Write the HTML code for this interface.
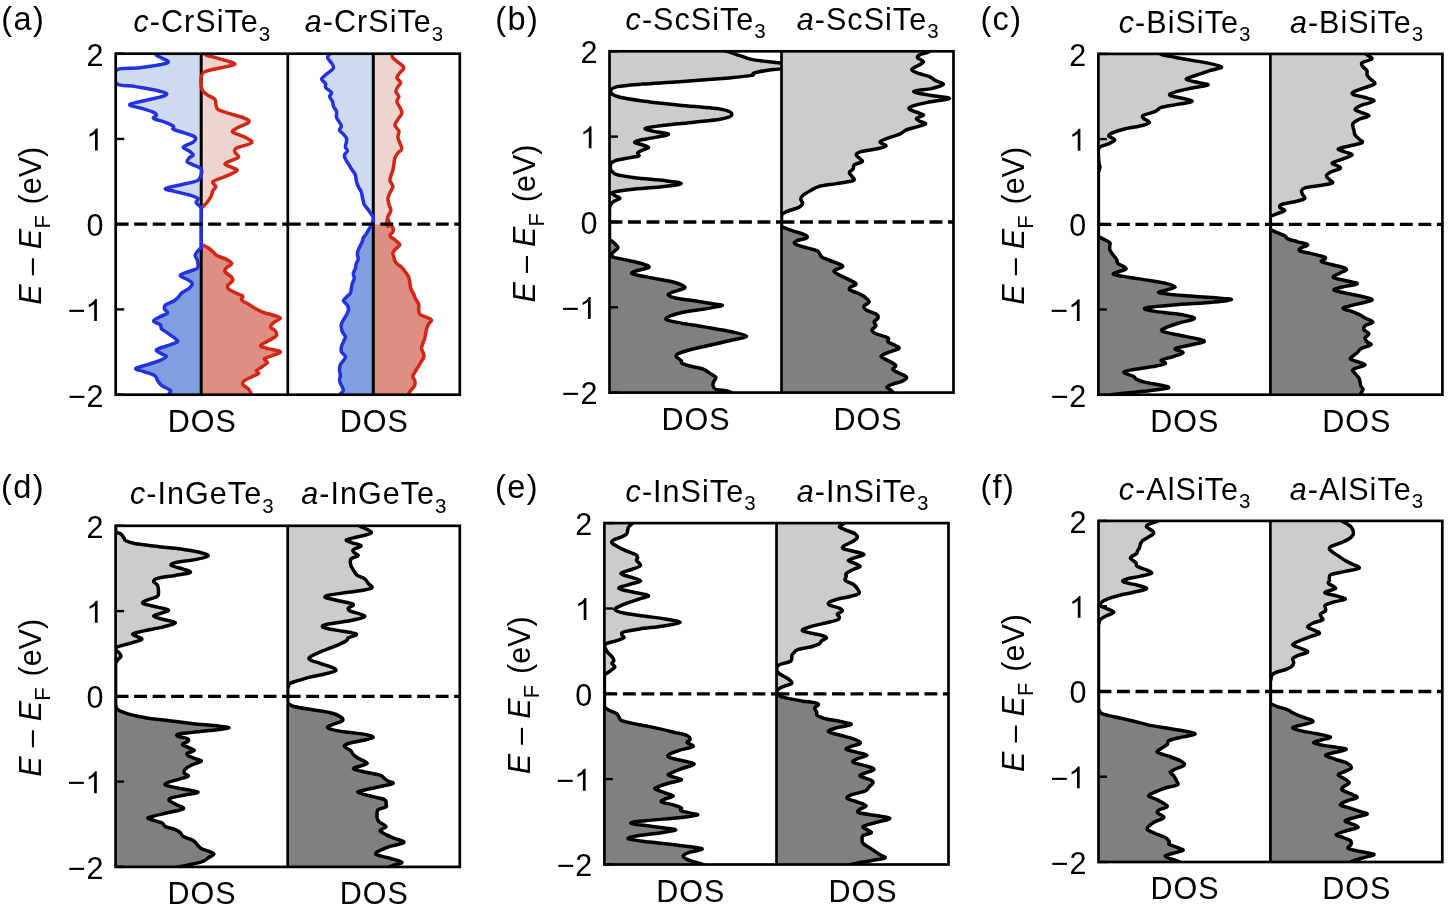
<!DOCTYPE html>
<html><head><meta charset="utf-8"><style>
html,body{margin:0;padding:0;background:#fff;}
svg{display:block;will-change:transform;font-family:"Liberation Sans",sans-serif;}
</style></head><body>
<svg width="1450" height="909" viewBox="0 0 1450 909">
<rect width="1450" height="909" fill="#fff"/>
<defs></defs>
<clipPath id="k1"><rect x="115.7" y="53.7" width="172.1" height="341"/></clipPath>
<clipPath id="k2"><rect x="115.7" y="33.7" width="172.1" height="190.5"/></clipPath>
<clipPath id="k3"><rect x="115.7" y="224.2" width="172.1" height="190.5"/></clipPath>
<g clip-path="url(#k1)">
<path d="M155.5,43.7C155.5,45.4 154.6,51.6 155.5,54C156.5,56.3 159.5,56.4 161.5,57.9C163.5,59.4 171.1,61.2 167.4,62.9C163.8,64.5 148.1,66.7 139.7,67.8C131.3,69 120.7,67.2 116.9,69.8C113.1,72.4 113.8,80.9 116.9,83.7C120.1,86.5 128.3,85.3 135.7,86.6C143.2,88 156.5,90.2 161.5,91.6C166.5,93 167.8,93.8 165.8,95.1C163.9,96.5 155.6,98 149.6,99.5C143.6,101.1 131.1,103 129.8,104.5C128.5,105.9 137.7,107.1 141.7,108.4C145.6,109.7 151.1,111.2 153.6,112.4C156,113.5 156.5,114.4 156.5,115.3C156.5,116.3 152.1,117.2 153.6,118.3C155,119.5 162.1,121 165.4,122.3C168.7,123.6 172,125.1 173.4,126.2C174.7,127.4 171.4,128.1 173.4,129.2C175.3,130.4 181.6,131.8 185.2,133.2C188.9,134.5 193.8,135.6 195.1,137.1C196.5,138.6 195.1,140.4 193.2,142.1C191.2,143.7 183.9,145.5 183.3,147C182.6,148.5 187.6,149.7 189.2,151C190.9,152.3 193.2,153.8 193.2,155C193.2,156.1 190.2,156.8 189.2,157.9C188.2,159.1 186.6,160.7 187.2,161.9C187.9,163 190.9,163.7 193.2,164.9C195.5,166 199.8,167.2 201.1,168.8C202.4,170.5 201.7,172.8 201.1,174.8C200.4,176.7 200.4,179 197.1,180.7C193.8,182.3 186.6,183.3 181.3,184.7C176,186 166.4,187.5 165.4,188.6C164.5,189.8 171.1,190.4 175.3,191.6C179.6,192.7 187.4,194.4 191.2,195.5C195,196.7 197.3,197.4 198.1,198.5C198.9,199.7 195.8,201.2 196.1,202.5C196.5,203.8 199.3,205.4 200.1,206.4C200.9,207.4 200.9,208.1 201.1,208.4L201.2,208.4 L201.2,43.7 Z" fill="#cddaf0" clip-path="url(#k2)"/>
<path d="M205,43.7C205,45.4 203.7,51.8 205,54C206.4,56.2 209.3,55.8 213,56.9C216.6,58.1 223.2,59.7 226.8,60.9C230.5,62.1 235.7,63.1 234.8,64.3C233.8,65.4 225.8,66.6 220.9,67.8C215.9,69.1 208.3,70.1 205,71.8C201.7,73.4 201.6,74.8 201.1,77.7C200.6,80.7 201.1,86.8 202.1,89.6C203.1,92.4 204.9,92.9 207,94.6C209.2,96.2 213.5,97.9 215,99.5C216.4,101.2 215.4,102.8 215.9,104.5C216.4,106.1 215.8,107.9 217.9,109.4C220.1,110.9 224.4,111.9 228.8,113.4C233.3,114.9 241.4,116.8 244.7,118.3C248,119.8 249.9,120.6 248.6,122.3C247.3,123.9 239.4,126.6 236.7,128.2C234.1,129.9 231.5,130.7 232.8,132.2C234.1,133.7 241.5,135.4 244.7,137.1C247.8,138.9 252.9,140.9 251.6,142.7C250.3,144.5 239.5,146.5 236.7,148C233.9,149.6 234.4,150.5 234.8,152C235.1,153.5 239,155.6 238.7,156.9C238.4,158.3 235.1,158.7 232.8,159.9C230.5,161.1 224.9,162.5 224.9,163.9C224.9,165.2 230.8,166.7 232.8,167.8C234.8,169 238.1,169.3 236.7,170.8C235.4,172.3 228.8,174.9 224.9,176.7C220.9,178.5 214.5,180 213,181.7C211.5,183.3 215.9,185.1 215.9,186.6C215.9,188.1 213.8,188.9 213,190.6C212.1,192.2 212,194.6 211,196.5C210,198.5 208.3,200.8 207,202.5C205.7,204.1 204.1,205.4 203.1,206.4C202.1,207.4 201.4,208.1 201.1,208.4L201.2,208.4 L201.2,43.7 Z" fill="#eed4cf" clip-path="url(#k2)"/>
<path d="M201.1,247.7C200.4,248.4 198.1,250.4 197.1,251.7C196.1,253 195.1,254.3 195.1,255.6C195.1,257 196.6,258.1 197.1,259.6C197.6,261.1 198.1,263.1 198.1,264.6C198.1,266 198.6,267.4 197.1,268.5C195.6,269.7 192,270.3 189.2,271.5C186.4,272.6 180.6,274.1 180.3,275.4C180,276.8 185.2,278.1 187.2,279.4C189.2,280.7 191.8,281.9 192.2,283.4C192.5,284.9 191,286.7 189.2,288.3C187.4,290 183.1,291.8 181.3,293.3C179.5,294.8 179.6,295.9 178.3,297.2C177,298.5 175.5,299.9 173.4,301.2C171.2,302.5 166.9,303.8 165.4,305.1C164,306.5 164.1,307.8 164.5,309.1C164.8,310.4 168.3,311.7 167.4,313.1C166.6,314.4 161.8,315.7 159.5,317C157.2,318.3 153.4,319.7 153.6,321C153.7,322.3 159.2,323.6 160.5,325C161.8,326.3 160.3,327.6 161.5,328.9C162.6,330.2 165.1,331.2 167.4,332.9C169.7,334.5 173.7,337.3 175.3,338.8C177,340.3 178.6,340.6 177.3,341.8C176,342.9 170.9,344.4 167.4,345.7C164,347.1 157.5,348.4 156.5,349.7C155.5,351 159.8,352.5 161.5,353.7C163.1,354.8 166.8,355.5 166.4,356.6C166.1,357.8 162.6,359.3 159.5,360.6C156.4,361.9 151.6,363.2 147.6,364.6C143.7,365.9 136.4,367.4 135.7,368.5C135.1,369.7 140.5,370.3 143.7,371.5C146.8,372.6 152.2,374 154.6,375.4C156.9,376.9 156.4,378.7 157.5,380.4C158.7,382 159.3,383.7 161.5,385.3C163.6,387 169.1,389 170.4,390.3C171.7,391.6 169.9,392.1 169.4,393.3C168.9,394.4 167.8,395.3 167.4,397.2C167.1,399.1 167.4,403.5 167.4,404.7L201.2,404.7 L201.2,247.7 Z" fill="#7fa0e0" clip-path="url(#k3)"/>
<path d="M202.1,244.8C203.1,245.2 206.2,246.6 208,247.7C209.8,248.9 211.5,250.4 213,251.7C214.5,253 214.6,254.3 216.9,255.6C219.2,257 224.4,258.3 226.8,259.6C229.3,260.9 231.8,262.2 231.8,263.6C231.8,264.9 228,266.2 226.8,267.5C225.7,268.8 224.2,270 224.9,271.5C225.5,273 229.5,275 230.8,276.4C232.1,277.9 233.3,278.9 232.8,280.4C232.3,281.9 228.5,283.9 227.8,285.3C227.2,286.8 227.3,288 228.8,289.3C230.3,290.6 234.4,292.1 236.7,293.3C239,294.4 241.8,295.1 242.7,296.2C243.5,297.4 240.7,298.9 241.7,300.2C242.7,301.5 246.5,302.8 248.6,304.2C250.8,305.5 252.2,306.8 254.6,308.1C256.9,309.4 259.5,310.9 262.5,312.1C265.4,313.2 269.4,314.1 272.4,315C275.3,316 280,316.9 280.3,318C280.6,319.2 276,320.5 274.4,322C272.7,323.5 270.2,325.4 270.4,326.9C270.6,328.4 274.4,329.4 275.3,330.9C276.3,332.4 277.5,334.2 276.3,335.8C275.2,337.5 271.1,339.1 268.4,340.8C265.8,342.4 260.5,344.4 260.5,345.7C260.5,347.1 265.1,347.7 268.4,348.7C271.7,349.7 279.6,350.5 280.3,351.7C281,352.8 275,354.5 272.4,355.6C269.7,356.8 265.3,357.5 264.5,358.6C263.6,359.8 267.8,361.3 267.4,362.6C267.1,363.9 264.3,365.2 262.5,366.5C260.7,367.9 257.2,369.3 256.5,370.5C255.9,371.7 259.2,372.5 258.5,373.5C257.9,374.5 254.9,375.3 252.6,376.4C250.3,377.6 246.3,379.1 244.7,380.4C243,381.7 242.2,383 242.7,384.4C243.2,385.7 246.3,387 247.6,388.3C248.9,389.6 249.9,390.8 250.6,392.3C251.3,393.8 251.4,395.2 251.6,397.2C251.7,399.3 251.6,403.5 251.6,404.7L201.2,404.7 L201.2,244.8 Z" fill="#de8e82" clip-path="url(#k3)"/>
<line x1="201.2" y1="53.7" x2="201.2" y2="394.7" stroke="#000" stroke-width="3"/>
<path d="M205,43.7C205,45.4 203.7,51.8 205,54C206.4,56.2 209.3,55.8 213,56.9C216.6,58.1 223.2,59.7 226.8,60.9C230.5,62.1 235.7,63.1 234.8,64.3C233.8,65.4 225.8,66.6 220.9,67.8C215.9,69.1 208.3,70.1 205,71.8C201.7,73.4 201.6,74.8 201.1,77.7C200.6,80.7 201.1,86.8 202.1,89.6C203.1,92.4 204.9,92.9 207,94.6C209.2,96.2 213.5,97.9 215,99.5C216.4,101.2 215.4,102.8 215.9,104.5C216.4,106.1 215.8,107.9 217.9,109.4C220.1,110.9 224.4,111.9 228.8,113.4C233.3,114.9 241.4,116.8 244.7,118.3C248,119.8 249.9,120.6 248.6,122.3C247.3,123.9 239.4,126.6 236.7,128.2C234.1,129.9 231.5,130.7 232.8,132.2C234.1,133.7 241.5,135.4 244.7,137.1C247.8,138.9 252.9,140.9 251.6,142.7C250.3,144.5 239.5,146.5 236.7,148C233.9,149.6 234.4,150.5 234.8,152C235.1,153.5 239,155.6 238.7,156.9C238.4,158.3 235.1,158.7 232.8,159.9C230.5,161.1 224.9,162.5 224.9,163.9C224.9,165.2 230.8,166.7 232.8,167.8C234.8,169 238.1,169.3 236.7,170.8C235.4,172.3 228.8,174.9 224.9,176.7C220.9,178.5 214.5,180 213,181.7C211.5,183.3 215.9,185.1 215.9,186.6C215.9,188.1 213.8,188.9 213,190.6C212.1,192.2 212,194.6 211,196.5C210,198.5 208.3,200.8 207,202.5C205.7,204.1 204.1,205.4 203.1,206.4C202.1,207.4 201.4,208.1 201.1,208.4" fill="none" stroke="#d22616" stroke-width="3.5" stroke-linejoin="round"/>
<path d="M202.1,244.8C203.1,245.2 206.2,246.6 208,247.7C209.8,248.9 211.5,250.4 213,251.7C214.5,253 214.6,254.3 216.9,255.6C219.2,257 224.4,258.3 226.8,259.6C229.3,260.9 231.8,262.2 231.8,263.6C231.8,264.9 228,266.2 226.8,267.5C225.7,268.8 224.2,270 224.9,271.5C225.5,273 229.5,275 230.8,276.4C232.1,277.9 233.3,278.9 232.8,280.4C232.3,281.9 228.5,283.9 227.8,285.3C227.2,286.8 227.3,288 228.8,289.3C230.3,290.6 234.4,292.1 236.7,293.3C239,294.4 241.8,295.1 242.7,296.2C243.5,297.4 240.7,298.9 241.7,300.2C242.7,301.5 246.5,302.8 248.6,304.2C250.8,305.5 252.2,306.8 254.6,308.1C256.9,309.4 259.5,310.9 262.5,312.1C265.4,313.2 269.4,314.1 272.4,315C275.3,316 280,316.9 280.3,318C280.6,319.2 276,320.5 274.4,322C272.7,323.5 270.2,325.4 270.4,326.9C270.6,328.4 274.4,329.4 275.3,330.9C276.3,332.4 277.5,334.2 276.3,335.8C275.2,337.5 271.1,339.1 268.4,340.8C265.8,342.4 260.5,344.4 260.5,345.7C260.5,347.1 265.1,347.7 268.4,348.7C271.7,349.7 279.6,350.5 280.3,351.7C281,352.8 275,354.5 272.4,355.6C269.7,356.8 265.3,357.5 264.5,358.6C263.6,359.8 267.8,361.3 267.4,362.6C267.1,363.9 264.3,365.2 262.5,366.5C260.7,367.9 257.2,369.3 256.5,370.5C255.9,371.7 259.2,372.5 258.5,373.5C257.9,374.5 254.9,375.3 252.6,376.4C250.3,377.6 246.3,379.1 244.7,380.4C243,381.7 242.2,383 242.7,384.4C243.2,385.7 246.3,387 247.6,388.3C248.9,389.6 249.9,390.8 250.6,392.3C251.3,393.8 251.4,395.2 251.6,397.2C251.7,399.3 251.6,403.5 251.6,404.7" fill="none" stroke="#d22616" stroke-width="3.5" stroke-linejoin="round"/>
<path d="M155.5,43.7C155.5,45.4 154.6,51.6 155.5,54C156.5,56.3 159.5,56.4 161.5,57.9C163.5,59.4 171.1,61.2 167.4,62.9C163.8,64.5 148.1,66.7 139.7,67.8C131.3,69 120.7,67.2 116.9,69.8C113.1,72.4 113.8,80.9 116.9,83.7C120.1,86.5 128.3,85.3 135.7,86.6C143.2,88 156.5,90.2 161.5,91.6C166.5,93 167.8,93.8 165.8,95.1C163.9,96.5 155.6,98 149.6,99.5C143.6,101.1 131.1,103 129.8,104.5C128.5,105.9 137.7,107.1 141.7,108.4C145.6,109.7 151.1,111.2 153.6,112.4C156,113.5 156.5,114.4 156.5,115.3C156.5,116.3 152.1,117.2 153.6,118.3C155,119.5 162.1,121 165.4,122.3C168.7,123.6 172,125.1 173.4,126.2C174.7,127.4 171.4,128.1 173.4,129.2C175.3,130.4 181.6,131.8 185.2,133.2C188.9,134.5 193.8,135.6 195.1,137.1C196.5,138.6 195.1,140.4 193.2,142.1C191.2,143.7 183.9,145.5 183.3,147C182.6,148.5 187.6,149.7 189.2,151C190.9,152.3 193.2,153.8 193.2,155C193.2,156.1 190.2,156.8 189.2,157.9C188.2,159.1 186.6,160.7 187.2,161.9C187.9,163 190.9,163.7 193.2,164.9C195.5,166 199.8,167.2 201.1,168.8C202.4,170.5 201.7,172.8 201.1,174.8C200.4,176.7 200.4,179 197.1,180.7C193.8,182.3 186.6,183.3 181.3,184.7C176,186 166.4,187.5 165.4,188.6C164.5,189.8 171.1,190.4 175.3,191.6C179.6,192.7 187.4,194.4 191.2,195.5C195,196.7 197.3,197.4 198.1,198.5C198.9,199.7 195.8,201.2 196.1,202.5C196.5,203.8 199.3,205.4 200.1,206.4C200.9,207.4 200.9,208.1 201.1,208.4 L201.2,208.4 L201.2,247.7L201.1,247.7C200.4,248.4 198.1,250.4 197.1,251.7C196.1,253 195.1,254.3 195.1,255.6C195.1,257 196.6,258.1 197.1,259.6C197.6,261.1 198.1,263.1 198.1,264.6C198.1,266 198.6,267.4 197.1,268.5C195.6,269.7 192,270.3 189.2,271.5C186.4,272.6 180.6,274.1 180.3,275.4C180,276.8 185.2,278.1 187.2,279.4C189.2,280.7 191.8,281.9 192.2,283.4C192.5,284.9 191,286.7 189.2,288.3C187.4,290 183.1,291.8 181.3,293.3C179.5,294.8 179.6,295.9 178.3,297.2C177,298.5 175.5,299.9 173.4,301.2C171.2,302.5 166.9,303.8 165.4,305.1C164,306.5 164.1,307.8 164.5,309.1C164.8,310.4 168.3,311.7 167.4,313.1C166.6,314.4 161.8,315.7 159.5,317C157.2,318.3 153.4,319.7 153.6,321C153.7,322.3 159.2,323.6 160.5,325C161.8,326.3 160.3,327.6 161.5,328.9C162.6,330.2 165.1,331.2 167.4,332.9C169.7,334.5 173.7,337.3 175.3,338.8C177,340.3 178.6,340.6 177.3,341.8C176,342.9 170.9,344.4 167.4,345.7C164,347.1 157.5,348.4 156.5,349.7C155.5,351 159.8,352.5 161.5,353.7C163.1,354.8 166.8,355.5 166.4,356.6C166.1,357.8 162.6,359.3 159.5,360.6C156.4,361.9 151.6,363.2 147.6,364.6C143.7,365.9 136.4,367.4 135.7,368.5C135.1,369.7 140.5,370.3 143.7,371.5C146.8,372.6 152.2,374 154.6,375.4C156.9,376.9 156.4,378.7 157.5,380.4C158.7,382 159.3,383.7 161.5,385.3C163.6,387 169.1,389 170.4,390.3C171.7,391.6 169.9,392.1 169.4,393.3C168.9,394.4 167.8,395.3 167.4,397.2C167.1,399.1 167.4,403.5 167.4,404.7" fill="none" stroke="#2332dc" stroke-width="3.5" stroke-linejoin="round"/>
</g>
<clipPath id="k4"><rect x="287.8" y="53.7" width="172.1" height="341"/></clipPath>
<clipPath id="k5"><rect x="287.8" y="33.7" width="172.1" height="190.5"/></clipPath>
<clipPath id="k6"><rect x="287.8" y="224.2" width="172.1" height="190.5"/></clipPath>
<g clip-path="url(#k4)">
<path d="M329.6,43.7C329.6,45.1 329.6,50.3 329.6,52C329.6,53.7 329.9,53 329.6,54C329.2,55 327.2,56.4 327.6,57.9C327.9,59.4 330.5,61.2 331.5,62.9C332.5,64.5 333.8,66.3 333.5,67.8C333.2,69.3 331,70.5 329.6,71.8C328.1,73.1 325.9,74.5 324.6,75.7C323.3,77 321.5,78 321.6,79.3C321.8,80.6 324.9,82.3 325.6,83.7C326.3,85 324.6,86.1 325.6,87.6C326.6,89.1 330.9,91.1 331.5,92.6C332.2,94.1 329.4,95 329.6,96.5C329.7,98 331.9,99.8 332.5,101.5C333.2,103.1 332.9,104.8 333.5,106.4C334.2,108.1 336,109.6 336.5,111.4C337,113.2 336,115.5 336.5,117.3C337,119.1 338.6,120.8 339.5,122.3C340.3,123.8 341.4,124.9 341.4,126.2C341.4,127.6 339.1,128.9 339.5,130.2C339.8,131.5 342.3,132.8 343.4,134.2C344.6,135.5 345.9,136.8 346.4,138.1C346.9,139.4 346.6,140.6 346.4,142.1C346.2,143.6 345.2,145.5 345.4,147C345.6,148.5 347.5,149.7 347.4,151C347.2,152.3 344.7,153.6 344.4,155C344.1,156.3 344.7,157.4 345.4,158.9C346.1,160.4 347.4,162.2 348.4,163.9C349.4,165.5 350.2,167 351.3,168.8C352.5,170.6 354.5,172.8 355.3,174.8C356.1,176.7 355.8,178.7 356.3,180.7C356.8,182.7 357.4,184.8 358.3,186.6C359.1,188.4 360.6,189.9 361.2,191.6C361.9,193.2 361.9,195 362.2,196.5C362.6,198 362.9,199.2 363.2,200.5C363.5,201.8 363.5,203.1 364.2,204.5C364.9,205.8 366.2,207.1 367.2,208.4C368.2,209.7 369.2,210.9 370.1,212.4C371.1,213.9 372.6,215.3 373.1,217.3C373.6,219.3 373.1,223.8 373.1,224.3C373.1,224.7 373.3,220 373.1,220C373,220 372.8,222.5 372.1,224C371.5,225.4 370.1,227.3 369.2,228.9C368.2,230.6 367.2,232.4 366.2,233.9C365.2,235.3 363.9,236.5 363.2,237.8C362.6,239.1 362.9,240.1 362.2,241.8C361.6,243.4 360.1,245.7 359.3,247.7C358.4,249.7 357.4,251.8 357.3,253.7C357.1,255.5 358.4,257 358.3,258.6C358.1,260.3 356.8,261.9 356.3,263.6C355.8,265.2 355.8,266.9 355.3,268.5C354.8,270.2 353.5,271.8 353.3,273.5C353.2,275.1 354.5,276.8 354.3,278.4C354.1,280.1 352.8,281.7 352.3,283.4C351.8,285 351.7,286.7 351.3,288.3C351,290 351.2,291.8 350.3,293.3C349.5,294.8 347.5,296 346.4,297.2C345.2,298.5 343.3,299.5 343.4,300.8C343.6,302.1 346.6,303.6 347.4,305.1C348.2,306.7 348.5,308.4 348.4,310.1C348.2,311.7 347.2,313.4 346.4,315C345.6,316.7 344.2,318.5 343.4,320C342.6,321.5 341.8,322.6 341.4,324C341.1,325.3 341.3,326.6 341.4,327.9C341.6,329.2 341.8,330.4 342.4,331.9C343.1,333.4 345.2,335.2 345.4,336.8C345.6,338.5 344.1,340.1 343.4,341.8C342.8,343.4 341.8,345.1 341.4,346.7C341.1,348.4 340.8,350 341.4,351.7C342.1,353.3 345.1,355.1 345.4,356.6C345.7,358.1 344.2,359.3 343.4,360.6C342.6,361.9 341.1,362.9 340.4,364.6C339.8,366.2 339.5,368.7 339.5,370.5C339.5,372.3 340.4,373.8 340.4,375.4C340.4,377.1 339.3,378.7 339.5,380.4C339.6,382 340.8,383.7 341.4,385.3C342.1,387 343.6,388.9 343.4,390.3C343.3,391.7 341.1,392.7 340.4,393.9C339.8,395 339.6,395.4 339.5,397.2C339.3,399 339.5,403.5 339.5,404.7L373.3,404.7 L373.3,43.7 Z" fill="#cddaf0" clip-path="url(#k5)"/>
<path d="M391.9,43.7C391.9,45.1 391.9,50.3 391.9,52C391.9,53.7 391.8,53 391.9,54C392.1,55 391.8,56.4 392.9,57.9C394.1,59.4 397,61.2 398.9,62.9C400.7,64.5 403.6,66.2 403.8,67.8C404,69.5 401,71.1 399.9,72.8C398.7,74.4 396.7,76.1 396.9,77.7C397,79.4 400.7,81.2 400.8,82.7C401,84.2 398.7,85.1 397.9,86.6C397,88.1 395.7,89.9 395.9,91.6C396.1,93.2 398.7,94.9 398.9,96.5C399,98.2 396.7,99.7 396.9,101.5C397,103.3 399,105.4 399.9,107.4C400.7,109.4 402.2,111.4 401.8,113.4C401.5,115.3 399,117.3 397.9,119.3C396.7,121.3 394.7,123.3 394.9,125.2C395.1,127.2 398.4,129.2 398.9,131.2C399.4,133.2 397.7,135.1 397.9,137.1C398,139.1 399.2,141.1 399.9,143.1C400.5,145 402.2,147.4 401.8,149C401.5,150.7 399,151.5 397.9,153C396.7,154.5 395.6,156.1 394.9,157.9C394.2,159.7 394.2,161.9 393.9,163.9C393.6,165.8 393.4,167.8 392.9,169.8C392.4,171.8 391.4,173.9 390.9,175.7C390.4,177.6 389.6,178.9 390,180.7C390.3,182.5 392.9,184.7 392.9,186.6C392.9,188.6 390.8,190.6 390,192.6C389.1,194.6 388.1,196.5 388,198.5C387.8,200.5 388.5,202.5 389,204.5C389.5,206.4 391.1,208.4 390.9,210.4C390.8,212.4 388.6,214.5 388,216.3C387.3,218.2 387,219.6 387,221.3C387,222.9 387.8,226.5 388,226.2C388.1,226 387.6,220.4 388,220C388.3,219.6 389.1,222.6 390,224C390.8,225.3 392.4,226.6 392.9,227.9C393.4,229.2 393.4,230.6 392.9,231.9C392.4,233.2 389.6,234.5 390,235.8C390.3,237.2 393.3,238.3 394.9,239.8C396.6,241.3 399.7,243.3 399.9,244.8C400,246.2 397,247.4 395.9,248.7C394.7,250 393.3,251.2 392.9,252.7C392.6,254.2 393.4,256 393.9,257.6C394.4,259.3 394.6,260.9 395.9,262.6C397.2,264.2 400.2,265.9 401.8,267.5C403.5,269.2 404.6,270.8 405.8,272.5C406.9,274.1 408.1,275.8 408.8,277.4C409.4,279.1 409.4,280.6 409.8,282.4C410.1,284.2 410.1,286.3 410.7,288.3C411.4,290.3 412.9,292.4 413.7,294.3C414.5,296.1 414.9,297.6 415.7,299.2C416.5,300.9 418.2,302.5 418.7,304.2C419.2,305.8 418.5,307.5 418.7,309.1C418.8,310.8 418.5,312.7 419.7,314.1C420.8,315.4 423.6,316 425.6,317C427.6,318 431,318.8 431.5,320C432,321.2 429.4,322.5 428.6,324C427.7,325.4 427.1,327.3 426.6,328.9C426.1,330.6 425.9,332.2 425.6,333.9C425.3,335.5 425.1,337.2 424.6,338.8C424.1,340.5 423.1,342.1 422.6,343.8C422.1,345.4 421.5,347.1 421.6,348.7C421.8,350.4 423.3,352.2 423.6,353.7C423.9,355.1 424.1,356.1 423.6,357.6C423.1,359.1 421.6,360.9 420.6,362.6C419.7,364.2 418.7,365.9 417.7,367.5C416.7,369.2 415.5,371 414.7,372.5C413.9,374 412.7,375.1 412.7,376.4C412.7,377.8 414.4,378.9 414.7,380.4C415,381.9 415.2,383.9 414.7,385.3C414.2,386.8 412.7,388 411.7,389.3C410.7,390.6 409.6,391.9 408.8,393.3C407.9,394.6 407.1,395.3 406.8,397.2C406.5,399.1 406.8,403.5 406.8,404.7L373.3,404.7 L373.3,43.7 Z" fill="#eed4cf" clip-path="url(#k5)"/>
<path d="M329.6,43.7C329.6,45.1 329.6,50.3 329.6,52C329.6,53.7 329.9,53 329.6,54C329.2,55 327.2,56.4 327.6,57.9C327.9,59.4 330.5,61.2 331.5,62.9C332.5,64.5 333.8,66.3 333.5,67.8C333.2,69.3 331,70.5 329.6,71.8C328.1,73.1 325.9,74.5 324.6,75.7C323.3,77 321.5,78 321.6,79.3C321.8,80.6 324.9,82.3 325.6,83.7C326.3,85 324.6,86.1 325.6,87.6C326.6,89.1 330.9,91.1 331.5,92.6C332.2,94.1 329.4,95 329.6,96.5C329.7,98 331.9,99.8 332.5,101.5C333.2,103.1 332.9,104.8 333.5,106.4C334.2,108.1 336,109.6 336.5,111.4C337,113.2 336,115.5 336.5,117.3C337,119.1 338.6,120.8 339.5,122.3C340.3,123.8 341.4,124.9 341.4,126.2C341.4,127.6 339.1,128.9 339.5,130.2C339.8,131.5 342.3,132.8 343.4,134.2C344.6,135.5 345.9,136.8 346.4,138.1C346.9,139.4 346.6,140.6 346.4,142.1C346.2,143.6 345.2,145.5 345.4,147C345.6,148.5 347.5,149.7 347.4,151C347.2,152.3 344.7,153.6 344.4,155C344.1,156.3 344.7,157.4 345.4,158.9C346.1,160.4 347.4,162.2 348.4,163.9C349.4,165.5 350.2,167 351.3,168.8C352.5,170.6 354.5,172.8 355.3,174.8C356.1,176.7 355.8,178.7 356.3,180.7C356.8,182.7 357.4,184.8 358.3,186.6C359.1,188.4 360.6,189.9 361.2,191.6C361.9,193.2 361.9,195 362.2,196.5C362.6,198 362.9,199.2 363.2,200.5C363.5,201.8 363.5,203.1 364.2,204.5C364.9,205.8 366.2,207.1 367.2,208.4C368.2,209.7 369.2,210.9 370.1,212.4C371.1,213.9 372.6,215.3 373.1,217.3C373.6,219.3 373.1,223.8 373.1,224.3C373.1,224.7 373.3,220 373.1,220C373,220 372.8,222.5 372.1,224C371.5,225.4 370.1,227.3 369.2,228.9C368.2,230.6 367.2,232.4 366.2,233.9C365.2,235.3 363.9,236.5 363.2,237.8C362.6,239.1 362.9,240.1 362.2,241.8C361.6,243.4 360.1,245.7 359.3,247.7C358.4,249.7 357.4,251.8 357.3,253.7C357.1,255.5 358.4,257 358.3,258.6C358.1,260.3 356.8,261.9 356.3,263.6C355.8,265.2 355.8,266.9 355.3,268.5C354.8,270.2 353.5,271.8 353.3,273.5C353.2,275.1 354.5,276.8 354.3,278.4C354.1,280.1 352.8,281.7 352.3,283.4C351.8,285 351.7,286.7 351.3,288.3C351,290 351.2,291.8 350.3,293.3C349.5,294.8 347.5,296 346.4,297.2C345.2,298.5 343.3,299.5 343.4,300.8C343.6,302.1 346.6,303.6 347.4,305.1C348.2,306.7 348.5,308.4 348.4,310.1C348.2,311.7 347.2,313.4 346.4,315C345.6,316.7 344.2,318.5 343.4,320C342.6,321.5 341.8,322.6 341.4,324C341.1,325.3 341.3,326.6 341.4,327.9C341.6,329.2 341.8,330.4 342.4,331.9C343.1,333.4 345.2,335.2 345.4,336.8C345.6,338.5 344.1,340.1 343.4,341.8C342.8,343.4 341.8,345.1 341.4,346.7C341.1,348.4 340.8,350 341.4,351.7C342.1,353.3 345.1,355.1 345.4,356.6C345.7,358.1 344.2,359.3 343.4,360.6C342.6,361.9 341.1,362.9 340.4,364.6C339.8,366.2 339.5,368.7 339.5,370.5C339.5,372.3 340.4,373.8 340.4,375.4C340.4,377.1 339.3,378.7 339.5,380.4C339.6,382 340.8,383.7 341.4,385.3C342.1,387 343.6,388.9 343.4,390.3C343.3,391.7 341.1,392.7 340.4,393.9C339.8,395 339.6,395.4 339.5,397.2C339.3,399 339.5,403.5 339.5,404.7L373.3,404.7 L373.3,43.7 Z" fill="#7fa0e0" clip-path="url(#k6)"/>
<path d="M391.9,43.7C391.9,45.1 391.9,50.3 391.9,52C391.9,53.7 391.8,53 391.9,54C392.1,55 391.8,56.4 392.9,57.9C394.1,59.4 397,61.2 398.9,62.9C400.7,64.5 403.6,66.2 403.8,67.8C404,69.5 401,71.1 399.9,72.8C398.7,74.4 396.7,76.1 396.9,77.7C397,79.4 400.7,81.2 400.8,82.7C401,84.2 398.7,85.1 397.9,86.6C397,88.1 395.7,89.9 395.9,91.6C396.1,93.2 398.7,94.9 398.9,96.5C399,98.2 396.7,99.7 396.9,101.5C397,103.3 399,105.4 399.9,107.4C400.7,109.4 402.2,111.4 401.8,113.4C401.5,115.3 399,117.3 397.9,119.3C396.7,121.3 394.7,123.3 394.9,125.2C395.1,127.2 398.4,129.2 398.9,131.2C399.4,133.2 397.7,135.1 397.9,137.1C398,139.1 399.2,141.1 399.9,143.1C400.5,145 402.2,147.4 401.8,149C401.5,150.7 399,151.5 397.9,153C396.7,154.5 395.6,156.1 394.9,157.9C394.2,159.7 394.2,161.9 393.9,163.9C393.6,165.8 393.4,167.8 392.9,169.8C392.4,171.8 391.4,173.9 390.9,175.7C390.4,177.6 389.6,178.9 390,180.7C390.3,182.5 392.9,184.7 392.9,186.6C392.9,188.6 390.8,190.6 390,192.6C389.1,194.6 388.1,196.5 388,198.5C387.8,200.5 388.5,202.5 389,204.5C389.5,206.4 391.1,208.4 390.9,210.4C390.8,212.4 388.6,214.5 388,216.3C387.3,218.2 387,219.6 387,221.3C387,222.9 387.8,226.5 388,226.2C388.1,226 387.6,220.4 388,220C388.3,219.6 389.1,222.6 390,224C390.8,225.3 392.4,226.6 392.9,227.9C393.4,229.2 393.4,230.6 392.9,231.9C392.4,233.2 389.6,234.5 390,235.8C390.3,237.2 393.3,238.3 394.9,239.8C396.6,241.3 399.7,243.3 399.9,244.8C400,246.2 397,247.4 395.9,248.7C394.7,250 393.3,251.2 392.9,252.7C392.6,254.2 393.4,256 393.9,257.6C394.4,259.3 394.6,260.9 395.9,262.6C397.2,264.2 400.2,265.9 401.8,267.5C403.5,269.2 404.6,270.8 405.8,272.5C406.9,274.1 408.1,275.8 408.8,277.4C409.4,279.1 409.4,280.6 409.8,282.4C410.1,284.2 410.1,286.3 410.7,288.3C411.4,290.3 412.9,292.4 413.7,294.3C414.5,296.1 414.9,297.6 415.7,299.2C416.5,300.9 418.2,302.5 418.7,304.2C419.2,305.8 418.5,307.5 418.7,309.1C418.8,310.8 418.5,312.7 419.7,314.1C420.8,315.4 423.6,316 425.6,317C427.6,318 431,318.8 431.5,320C432,321.2 429.4,322.5 428.6,324C427.7,325.4 427.1,327.3 426.6,328.9C426.1,330.6 425.9,332.2 425.6,333.9C425.3,335.5 425.1,337.2 424.6,338.8C424.1,340.5 423.1,342.1 422.6,343.8C422.1,345.4 421.5,347.1 421.6,348.7C421.8,350.4 423.3,352.2 423.6,353.7C423.9,355.1 424.1,356.1 423.6,357.6C423.1,359.1 421.6,360.9 420.6,362.6C419.7,364.2 418.7,365.9 417.7,367.5C416.7,369.2 415.5,371 414.7,372.5C413.9,374 412.7,375.1 412.7,376.4C412.7,377.8 414.4,378.9 414.7,380.4C415,381.9 415.2,383.9 414.7,385.3C414.2,386.8 412.7,388 411.7,389.3C410.7,390.6 409.6,391.9 408.8,393.3C407.9,394.6 407.1,395.3 406.8,397.2C406.5,399.1 406.8,403.5 406.8,404.7L373.3,404.7 L373.3,43.7 Z" fill="#de8e82" clip-path="url(#k6)"/>
<line x1="373.3" y1="53.7" x2="373.3" y2="394.7" stroke="#000" stroke-width="3"/>
<path d="M391.9,43.7C391.9,45.1 391.9,50.3 391.9,52C391.9,53.7 391.8,53 391.9,54C392.1,55 391.8,56.4 392.9,57.9C394.1,59.4 397,61.2 398.9,62.9C400.7,64.5 403.6,66.2 403.8,67.8C404,69.5 401,71.1 399.9,72.8C398.7,74.4 396.7,76.1 396.9,77.7C397,79.4 400.7,81.2 400.8,82.7C401,84.2 398.7,85.1 397.9,86.6C397,88.1 395.7,89.9 395.9,91.6C396.1,93.2 398.7,94.9 398.9,96.5C399,98.2 396.7,99.7 396.9,101.5C397,103.3 399,105.4 399.9,107.4C400.7,109.4 402.2,111.4 401.8,113.4C401.5,115.3 399,117.3 397.9,119.3C396.7,121.3 394.7,123.3 394.9,125.2C395.1,127.2 398.4,129.2 398.9,131.2C399.4,133.2 397.7,135.1 397.9,137.1C398,139.1 399.2,141.1 399.9,143.1C400.5,145 402.2,147.4 401.8,149C401.5,150.7 399,151.5 397.9,153C396.7,154.5 395.6,156.1 394.9,157.9C394.2,159.7 394.2,161.9 393.9,163.9C393.6,165.8 393.4,167.8 392.9,169.8C392.4,171.8 391.4,173.9 390.9,175.7C390.4,177.6 389.6,178.9 390,180.7C390.3,182.5 392.9,184.7 392.9,186.6C392.9,188.6 390.8,190.6 390,192.6C389.1,194.6 388.1,196.5 388,198.5C387.8,200.5 388.5,202.5 389,204.5C389.5,206.4 391.1,208.4 390.9,210.4C390.8,212.4 388.6,214.5 388,216.3C387.3,218.2 387,219.6 387,221.3C387,222.9 387.8,226.5 388,226.2C388.1,226 387.6,220.4 388,220C388.3,219.6 389.1,222.6 390,224C390.8,225.3 392.4,226.6 392.9,227.9C393.4,229.2 393.4,230.6 392.9,231.9C392.4,233.2 389.6,234.5 390,235.8C390.3,237.2 393.3,238.3 394.9,239.8C396.6,241.3 399.7,243.3 399.9,244.8C400,246.2 397,247.4 395.9,248.7C394.7,250 393.3,251.2 392.9,252.7C392.6,254.2 393.4,256 393.9,257.6C394.4,259.3 394.6,260.9 395.9,262.6C397.2,264.2 400.2,265.9 401.8,267.5C403.5,269.2 404.6,270.8 405.8,272.5C406.9,274.1 408.1,275.8 408.8,277.4C409.4,279.1 409.4,280.6 409.8,282.4C410.1,284.2 410.1,286.3 410.7,288.3C411.4,290.3 412.9,292.4 413.7,294.3C414.5,296.1 414.9,297.6 415.7,299.2C416.5,300.9 418.2,302.5 418.7,304.2C419.2,305.8 418.5,307.5 418.7,309.1C418.8,310.8 418.5,312.7 419.7,314.1C420.8,315.4 423.6,316 425.6,317C427.6,318 431,318.8 431.5,320C432,321.2 429.4,322.5 428.6,324C427.7,325.4 427.1,327.3 426.6,328.9C426.1,330.6 425.9,332.2 425.6,333.9C425.3,335.5 425.1,337.2 424.6,338.8C424.1,340.5 423.1,342.1 422.6,343.8C422.1,345.4 421.5,347.1 421.6,348.7C421.8,350.4 423.3,352.2 423.6,353.7C423.9,355.1 424.1,356.1 423.6,357.6C423.1,359.1 421.6,360.9 420.6,362.6C419.7,364.2 418.7,365.9 417.7,367.5C416.7,369.2 415.5,371 414.7,372.5C413.9,374 412.7,375.1 412.7,376.4C412.7,377.8 414.4,378.9 414.7,380.4C415,381.9 415.2,383.9 414.7,385.3C414.2,386.8 412.7,388 411.7,389.3C410.7,390.6 409.6,391.9 408.8,393.3C407.9,394.6 407.1,395.3 406.8,397.2C406.5,399.1 406.8,403.5 406.8,404.7" fill="none" stroke="#d22616" stroke-width="3.5" stroke-linejoin="round"/>
<path d="M329.6,43.7C329.6,45.1 329.6,50.3 329.6,52C329.6,53.7 329.9,53 329.6,54C329.2,55 327.2,56.4 327.6,57.9C327.9,59.4 330.5,61.2 331.5,62.9C332.5,64.5 333.8,66.3 333.5,67.8C333.2,69.3 331,70.5 329.6,71.8C328.1,73.1 325.9,74.5 324.6,75.7C323.3,77 321.5,78 321.6,79.3C321.8,80.6 324.9,82.3 325.6,83.7C326.3,85 324.6,86.1 325.6,87.6C326.6,89.1 330.9,91.1 331.5,92.6C332.2,94.1 329.4,95 329.6,96.5C329.7,98 331.9,99.8 332.5,101.5C333.2,103.1 332.9,104.8 333.5,106.4C334.2,108.1 336,109.6 336.5,111.4C337,113.2 336,115.5 336.5,117.3C337,119.1 338.6,120.8 339.5,122.3C340.3,123.8 341.4,124.9 341.4,126.2C341.4,127.6 339.1,128.9 339.5,130.2C339.8,131.5 342.3,132.8 343.4,134.2C344.6,135.5 345.9,136.8 346.4,138.1C346.9,139.4 346.6,140.6 346.4,142.1C346.2,143.6 345.2,145.5 345.4,147C345.6,148.5 347.5,149.7 347.4,151C347.2,152.3 344.7,153.6 344.4,155C344.1,156.3 344.7,157.4 345.4,158.9C346.1,160.4 347.4,162.2 348.4,163.9C349.4,165.5 350.2,167 351.3,168.8C352.5,170.6 354.5,172.8 355.3,174.8C356.1,176.7 355.8,178.7 356.3,180.7C356.8,182.7 357.4,184.8 358.3,186.6C359.1,188.4 360.6,189.9 361.2,191.6C361.9,193.2 361.9,195 362.2,196.5C362.6,198 362.9,199.2 363.2,200.5C363.5,201.8 363.5,203.1 364.2,204.5C364.9,205.8 366.2,207.1 367.2,208.4C368.2,209.7 369.2,210.9 370.1,212.4C371.1,213.9 372.6,215.3 373.1,217.3C373.6,219.3 373.1,223.8 373.1,224.3C373.1,224.7 373.3,220 373.1,220C373,220 372.8,222.5 372.1,224C371.5,225.4 370.1,227.3 369.2,228.9C368.2,230.6 367.2,232.4 366.2,233.9C365.2,235.3 363.9,236.5 363.2,237.8C362.6,239.1 362.9,240.1 362.2,241.8C361.6,243.4 360.1,245.7 359.3,247.7C358.4,249.7 357.4,251.8 357.3,253.7C357.1,255.5 358.4,257 358.3,258.6C358.1,260.3 356.8,261.9 356.3,263.6C355.8,265.2 355.8,266.9 355.3,268.5C354.8,270.2 353.5,271.8 353.3,273.5C353.2,275.1 354.5,276.8 354.3,278.4C354.1,280.1 352.8,281.7 352.3,283.4C351.8,285 351.7,286.7 351.3,288.3C351,290 351.2,291.8 350.3,293.3C349.5,294.8 347.5,296 346.4,297.2C345.2,298.5 343.3,299.5 343.4,300.8C343.6,302.1 346.6,303.6 347.4,305.1C348.2,306.7 348.5,308.4 348.4,310.1C348.2,311.7 347.2,313.4 346.4,315C345.6,316.7 344.2,318.5 343.4,320C342.6,321.5 341.8,322.6 341.4,324C341.1,325.3 341.3,326.6 341.4,327.9C341.6,329.2 341.8,330.4 342.4,331.9C343.1,333.4 345.2,335.2 345.4,336.8C345.6,338.5 344.1,340.1 343.4,341.8C342.8,343.4 341.8,345.1 341.4,346.7C341.1,348.4 340.8,350 341.4,351.7C342.1,353.3 345.1,355.1 345.4,356.6C345.7,358.1 344.2,359.3 343.4,360.6C342.6,361.9 341.1,362.9 340.4,364.6C339.8,366.2 339.5,368.7 339.5,370.5C339.5,372.3 340.4,373.8 340.4,375.4C340.4,377.1 339.3,378.7 339.5,380.4C339.6,382 340.8,383.7 341.4,385.3C342.1,387 343.6,388.9 343.4,390.3C343.3,391.7 341.1,392.7 340.4,393.9C339.8,395 339.6,395.4 339.5,397.2C339.3,399 339.5,403.5 339.5,404.7" fill="none" stroke="#2332dc" stroke-width="3.5" stroke-linejoin="round"/>
</g>
<line x1="115.7" y1="224.2" x2="287.8" y2="224.2" stroke="#000" stroke-width="3.3" stroke-dasharray="12.9 5.6"/>
<line x1="287.8" y1="224.2" x2="459.8" y2="224.2" stroke="#000" stroke-width="3.3" stroke-dasharray="12.9 5.6"/>
<line x1="115.7" y1="53.7" x2="124.2" y2="53.7" stroke="#000" stroke-width="2.4"/>
<line x1="115.7" y1="138.9" x2="124.2" y2="138.9" stroke="#000" stroke-width="2.4"/>
<line x1="115.7" y1="224.2" x2="124.2" y2="224.2" stroke="#000" stroke-width="2.4"/>
<line x1="115.7" y1="309.4" x2="124.2" y2="309.4" stroke="#000" stroke-width="2.4"/>
<line x1="115.7" y1="394.7" x2="124.2" y2="394.7" stroke="#000" stroke-width="2.4"/>
<rect x="115.7" y="53.7" width="344.1" height="341" fill="none" stroke="#000" stroke-width="2.7"/>
<line x1="287.8" y1="53.7" x2="287.8" y2="394.7" stroke="#000" stroke-width="2.7"/>
<text x="104.2" y="65.5" text-anchor="end" font-size="30.5" letter-spacing="0.6">2</text>
<path d="M97.7,150.5L95,150.5L95,133.5Q94,134.4 92.4,135.3Q90.9,136.2 89.6,136.7L89.6,134.1Q91.9,133.1 93.6,131.5Q95.2,130 95.9,128.6L97.7,128.6Z" fill="#000"/>
<text x="104.2" y="236" text-anchor="end" font-size="30.5" letter-spacing="0.6">0</text>
<path d="M96.9,321.1L94.2,321.1L94.2,304Q93.2,304.9 91.6,305.8Q90.1,306.7 88.8,307.2L88.8,304.6Q91.1,303.6 92.8,302Q94.4,300.5 95.1,299.1L96.9,299.1Z" fill="#000"/>
<text x="85.7" y="321.2" text-anchor="end" font-size="30.5">−</text>
<text x="104.2" y="406.5" text-anchor="end" font-size="30.5" letter-spacing="0.6">−2</text>
<text x="202.2" y="432" text-anchor="middle" font-size="30.5" letter-spacing="1.0">DOS</text>
<text x="374.3" y="432" text-anchor="middle" font-size="30.5" letter-spacing="1.0">DOS</text>
<text x="202.4" y="32.3" text-anchor="middle" font-size="30.5" letter-spacing="1.05"><tspan font-style="italic">c</tspan>-CrSiTe<tspan font-size="20.5" dy="8.2">3</tspan></text>
<text x="374.5" y="32.3" text-anchor="middle" font-size="30.5" letter-spacing="1.05"><tspan font-style="italic">a</tspan>-CrSiTe<tspan font-size="20.5" dy="8.2">3</tspan></text>
<text x="1.2" y="29.6" font-size="32.5" letter-spacing="1.4">(a)</text>
<text transform="translate(41.2,304.7) rotate(-90)" font-size="30.5" letter-spacing="0.3"><tspan font-style="italic">E</tspan> – <tspan font-style="italic">E</tspan><tspan font-size="22" dy="8.6">F</tspan></text>
<text transform="translate(41.2,204.4) rotate(-90)" font-size="30.5">(eV)</text>
<clipPath id="k7"><rect x="609.5" y="51.3" width="172" height="341.3"/></clipPath>
<g clip-path="url(#k7)">
<path d="M723.8,41.3C723.8,42.7 722.9,48.2 723.8,50C724.7,51.7 726.2,50.8 729.1,51.9C732,52.9 737.3,54.9 741.5,56.2C745.6,57.5 747.6,58.8 754,59.9C760.4,61 775,62.2 780,63C785,63.8 783.5,64.1 784.2,64.8C784.9,65.5 784.7,66.5 784.2,67.2C783.7,67.8 784.2,68 781.2,68.6C778.3,69.2 770.9,69.8 766.4,70.5C761.8,71.2 756.5,72.2 754,73C751.5,73.8 755.6,74.6 751.5,75.4C747.3,76.2 741.1,76.8 729.1,77.9C717.1,78.9 694,80.7 679.5,81.7C665,82.7 652.6,83.3 642.2,84.1C631.9,84.9 622.7,85.5 617.4,86.6C612.1,87.8 610.6,89.3 610.6,91C610.6,92.7 612.1,94.9 617.4,96.5C622.7,98.2 631.9,99.5 642.2,100.9C652.6,102.3 666,103.7 679.5,105.2C693,106.6 714.3,107.9 723,109.6C731.7,111.3 732.3,113.7 731.7,115.3C731.2,116.9 726.1,118.1 719.9,119.3C713.6,120.4 703.3,121.2 694.1,122.2C684.9,123.2 672.5,124.2 664.4,125.2C656.3,126.2 647.6,127.2 645.6,128.2C643.6,129.2 648.7,130.1 652.5,131.1C656.3,132.1 667.7,133.1 668.4,134.1C669,135.1 661.1,136.1 656.5,137.1C651.9,138.1 644.3,139.2 640.6,140C637,140.9 634.4,141.6 634.7,142.4C635,143.3 640.3,144.1 642.6,145C644.9,145.9 648.6,146.7 648.6,147.6C648.6,148.4 644.4,149.1 642.6,150C640.8,150.8 638.3,151.9 637.7,152.9C637,153.9 640.1,155.1 638.7,155.9C637.2,156.7 632.7,157 628.8,157.9C624.8,158.7 617.9,159.9 614.9,160.8C611.9,161.8 611.6,162.3 610.9,163.8C610.3,165.3 610,167.9 610.9,169.8C611.9,171.6 612.9,173.4 616.9,174.7C620.8,176 626.8,176.7 634.7,177.7C642.6,178.7 656.7,179.7 664.4,180.6C672.2,181.6 681.2,182.6 681.2,183.6C681.2,184.6 672.8,185.6 664.4,186.6C656,187.6 639.3,188.6 630.7,189.6C622.2,190.5 615.6,191.5 612.9,192.5C610.3,193.5 613.7,194.5 614.9,195.5C616.1,196.5 620,197.5 619.9,198.5C619.7,199.5 615.4,200.4 613.9,201.4C612.4,202.4 611.6,203.6 610.9,204.4C610.3,205.2 610.1,206.1 610,206.4L609.5,206.4 L609.5,41.3 Z" fill="#cccccc"/>
<path d="M610,239.8C610.8,240.4 613.6,242.4 614.9,243.7C616.2,245 618,246.4 617.9,247.7C617.7,249 615.1,250.3 613.9,251.6C612.8,253 610.8,254.6 610.9,255.6C611.1,256.6 611.9,256.7 614.9,257.6C617.9,258.4 623.8,259.4 628.8,260.5C633.7,261.7 641.3,263.3 644.6,264.5C647.9,265.7 650.2,266.3 648.6,267.5C646.9,268.6 637.3,270.4 634.7,271.4C632.1,272.5 630.4,272.8 632.7,273.8C635,274.8 642.3,276.1 648.6,277.4C654.8,278.6 664.7,280 670.3,281.3C676,282.7 679.9,284.1 682.2,285.3C684.5,286.5 685.9,287.1 684.2,288.3C682.6,289.4 675,291.1 672.3,292.2C669.7,293.4 667.7,294.2 668.4,295.2C669,296.2 671.7,297.2 676.3,298.2C680.9,299.2 689.5,300.1 696.1,301.1C702.7,302.1 711.6,303.3 715.9,304.1C720.2,304.9 723.8,304.9 721.8,305.7C719.9,306.5 710.3,308 704,309.1C697.7,310.1 689.8,310.9 684.2,312C678.6,313.2 673.3,314.7 670.3,316C667.4,317.2 664.7,318.4 666.4,319.6C668,320.7 674,321.7 680.2,322.9C686.5,324.1 695.4,325.4 704,326.9C712.6,328.4 724.6,330.3 731.7,331.8C738.8,333.4 746.3,334.9 746.6,336.2C746.9,337.5 739.5,338.3 733.7,339.8C727.9,341.2 719.2,343.1 711.9,344.7C704.7,346.4 695.8,348.2 690.1,349.7C684.5,351.1 680.6,352.5 678.3,353.6C676,354.8 675.8,355.4 676.3,356.6C676.8,357.7 680.2,359.4 681.2,360.5C682.2,361.7 680.4,362.5 682.2,363.5C684,364.5 688.5,365.5 692.1,366.5C695.8,367.5 701,368.3 704,369.5C707,370.6 708,372.1 710,373.4C711.9,374.7 715.2,376.1 715.9,377.4C716.6,378.7 714.4,380 713.9,381.3C713.4,382.7 712.6,384 712.9,385.3C713.3,386.6 713.4,388.3 715.9,389.3C718.4,390.2 724.8,390.4 727.8,391.2C730.7,392.1 732.7,392.3 733.7,394.2C734.7,396.1 733.7,401.2 733.7,402.6L609.5,402.6 L609.5,239.8 Z" fill="#808080"/>
<path d="M723.8,41.3C723.8,42.7 722.9,48.2 723.8,50C724.7,51.7 726.2,50.8 729.1,51.9C732,52.9 737.3,54.9 741.5,56.2C745.6,57.5 747.6,58.8 754,59.9C760.4,61 775,62.2 780,63C785,63.8 783.5,64.1 784.2,64.8C784.9,65.5 784.7,66.5 784.2,67.2C783.7,67.8 784.2,68 781.2,68.6C778.3,69.2 770.9,69.8 766.4,70.5C761.8,71.2 756.5,72.2 754,73C751.5,73.8 755.6,74.6 751.5,75.4C747.3,76.2 741.1,76.8 729.1,77.9C717.1,78.9 694,80.7 679.5,81.7C665,82.7 652.6,83.3 642.2,84.1C631.9,84.9 622.7,85.5 617.4,86.6C612.1,87.8 610.6,89.3 610.6,91C610.6,92.7 612.1,94.9 617.4,96.5C622.7,98.2 631.9,99.5 642.2,100.9C652.6,102.3 666,103.7 679.5,105.2C693,106.6 714.3,107.9 723,109.6C731.7,111.3 732.3,113.7 731.7,115.3C731.2,116.9 726.1,118.1 719.9,119.3C713.6,120.4 703.3,121.2 694.1,122.2C684.9,123.2 672.5,124.2 664.4,125.2C656.3,126.2 647.6,127.2 645.6,128.2C643.6,129.2 648.7,130.1 652.5,131.1C656.3,132.1 667.7,133.1 668.4,134.1C669,135.1 661.1,136.1 656.5,137.1C651.9,138.1 644.3,139.2 640.6,140C637,140.9 634.4,141.6 634.7,142.4C635,143.3 640.3,144.1 642.6,145C644.9,145.9 648.6,146.7 648.6,147.6C648.6,148.4 644.4,149.1 642.6,150C640.8,150.8 638.3,151.9 637.7,152.9C637,153.9 640.1,155.1 638.7,155.9C637.2,156.7 632.7,157 628.8,157.9C624.8,158.7 617.9,159.9 614.9,160.8C611.9,161.8 611.6,162.3 610.9,163.8C610.3,165.3 610,167.9 610.9,169.8C611.9,171.6 612.9,173.4 616.9,174.7C620.8,176 626.8,176.7 634.7,177.7C642.6,178.7 656.7,179.7 664.4,180.6C672.2,181.6 681.2,182.6 681.2,183.6C681.2,184.6 672.8,185.6 664.4,186.6C656,187.6 639.3,188.6 630.7,189.6C622.2,190.5 615.6,191.5 612.9,192.5C610.3,193.5 613.7,194.5 614.9,195.5C616.1,196.5 620,197.5 619.9,198.5C619.7,199.5 615.4,200.4 613.9,201.4C612.4,202.4 611.6,203.6 610.9,204.4C610.3,205.2 610.1,206.1 610,206.4 L609.5,206.4 L609.5,239.8L610,239.8C610.8,240.4 613.6,242.4 614.9,243.7C616.2,245 618,246.4 617.9,247.7C617.7,249 615.1,250.3 613.9,251.6C612.8,253 610.8,254.6 610.9,255.6C611.1,256.6 611.9,256.7 614.9,257.6C617.9,258.4 623.8,259.4 628.8,260.5C633.7,261.7 641.3,263.3 644.6,264.5C647.9,265.7 650.2,266.3 648.6,267.5C646.9,268.6 637.3,270.4 634.7,271.4C632.1,272.5 630.4,272.8 632.7,273.8C635,274.8 642.3,276.1 648.6,277.4C654.8,278.6 664.7,280 670.3,281.3C676,282.7 679.9,284.1 682.2,285.3C684.5,286.5 685.9,287.1 684.2,288.3C682.6,289.4 675,291.1 672.3,292.2C669.7,293.4 667.7,294.2 668.4,295.2C669,296.2 671.7,297.2 676.3,298.2C680.9,299.2 689.5,300.1 696.1,301.1C702.7,302.1 711.6,303.3 715.9,304.1C720.2,304.9 723.8,304.9 721.8,305.7C719.9,306.5 710.3,308 704,309.1C697.7,310.1 689.8,310.9 684.2,312C678.6,313.2 673.3,314.7 670.3,316C667.4,317.2 664.7,318.4 666.4,319.6C668,320.7 674,321.7 680.2,322.9C686.5,324.1 695.4,325.4 704,326.9C712.6,328.4 724.6,330.3 731.7,331.8C738.8,333.4 746.3,334.9 746.6,336.2C746.9,337.5 739.5,338.3 733.7,339.8C727.9,341.2 719.2,343.1 711.9,344.7C704.7,346.4 695.8,348.2 690.1,349.7C684.5,351.1 680.6,352.5 678.3,353.6C676,354.8 675.8,355.4 676.3,356.6C676.8,357.7 680.2,359.4 681.2,360.5C682.2,361.7 680.4,362.5 682.2,363.5C684,364.5 688.5,365.5 692.1,366.5C695.8,367.5 701,368.3 704,369.5C707,370.6 708,372.1 710,373.4C711.9,374.7 715.2,376.1 715.9,377.4C716.6,378.7 714.4,380 713.9,381.3C713.4,382.7 712.6,384 712.9,385.3C713.3,386.6 713.4,388.3 715.9,389.3C718.4,390.2 724.8,390.4 727.8,391.2C730.7,392.1 732.7,392.3 733.7,394.2C734.7,396.1 733.7,401.2 733.7,402.6" fill="none" stroke="#000" stroke-width="3.5" stroke-linejoin="round"/>
</g>
<clipPath id="k8"><rect x="781.5" y="51.3" width="172" height="341.3"/></clipPath>
<g clip-path="url(#k8)">
<path d="M929.5,41.3C929.5,42.7 929.6,48.2 929.5,50C929.3,51.7 930.1,51.1 928.5,51.9C926.8,52.8 921.4,53.9 919.6,54.9C917.8,55.9 916.9,56.7 917.6,57.9C918.3,59 923.5,60.5 923.5,61.8C923.5,63.2 919.6,64.5 917.6,65.8C915.6,67.1 911.3,68.4 911.7,69.8C912,71.1 916.6,72.6 919.6,73.7C922.5,74.9 926.8,75.5 929.5,76.7C932.1,77.8 933.1,79.3 935.4,80.6C937.7,82 944,83.3 943.3,84.6C942.7,85.9 936.4,87.4 931.5,88.6C926.5,89.7 913.6,90.4 913.6,91.5C913.6,92.7 925.5,94.3 931.5,95.5C937.4,96.7 949.9,97.3 949.3,98.5C948.6,99.6 933.8,101.1 927.5,102.4C921.2,103.7 914.6,105.2 911.7,106.4C908.7,107.5 908.4,108.2 909.7,109.4C911,110.5 917.3,112.3 919.6,113.3C921.9,114.3 924,114.5 923.5,115.3C923,116.1 917.3,117.3 916.6,118.3C915.9,119.3 918.1,120.3 919.6,121.2C921.1,122.2 926.2,122.8 925.5,123.8C924.9,124.8 918.9,126.1 915.6,127.2C912.3,128.2 908.4,129 905.7,130.1C903.1,131.3 902.7,132.8 899.8,134.1C896.8,135.4 891.2,136.7 887.9,138.1C884.6,139.4 880.3,140.7 880,142C879.6,143.3 886.6,144.8 885.9,146C885.3,147.1 880.3,148 876,149C871.7,150 863.5,150.9 860.2,151.9C856.9,152.9 856.2,153.7 856.2,154.9C856.2,156.1 859.2,157.7 860.2,158.9C861.2,160 863.1,160.8 862.1,161.8C861.2,162.8 855.7,163.6 854.2,164.8C852.7,166 854.1,167.4 853.2,168.8C852.4,170.1 849.4,171.4 849.3,172.7C849.1,174 851.6,175.4 852.2,176.7C852.9,178 855.9,179.5 853.2,180.6C850.6,181.8 842.2,182.6 836.4,183.6C830.6,184.6 822.9,185.4 818.6,186.6C814.3,187.7 813.3,189.1 810.7,190.5C808,192 804.4,194 802.7,195.5C801.1,197 800.8,198.1 800.8,199.5C800.8,200.8 803.1,202.1 802.7,203.4C802.4,204.7 801.4,206.1 798.8,207.4C796.1,208.7 789.7,210.2 786.9,211.3C784.1,212.5 782.8,213.8 782,214.3L781.5,214.3 L781.5,41.3 Z" fill="#cccccc"/>
<path d="M782,226.9C783.8,227.5 789,229.5 792.8,230.8C796.6,232.2 802.4,233.6 804.7,234.8C807,236 808,236.8 806.7,237.8C805.4,238.8 798.8,239.8 796.8,240.7C794.8,241.7 793.8,242.7 794.8,243.7C795.8,244.7 799.1,245.5 802.7,246.7C806.4,247.8 813.8,249.5 816.6,250.6C819.4,251.8 818.6,252.5 819.6,253.6C820.6,254.8 820.4,256.3 822.5,257.6C824.7,258.9 829.5,260.4 832.4,261.5C835.4,262.7 838.7,263.6 840.4,264.5C842,265.4 843.3,265.9 842.3,266.9C841.4,267.9 835.4,269.4 834.4,270.4C833.4,271.5 834.8,272.3 836.4,273.4C838.1,274.6 841.7,276.1 844.3,277.4C847,278.7 850.3,280.2 852.2,281.3C854.2,282.5 856.5,283.3 856.2,284.3C855.9,285.3 851.3,286.3 850.3,287.3C849.3,288.3 848.6,289.1 850.3,290.2C851.9,291.4 857.5,292.9 860.2,294.2C862.8,295.5 864.6,296.8 866.1,298.2C867.6,299.5 869.4,300.8 869.1,302.1C868.7,303.4 864.6,304.8 864.1,306.1C863.6,307.4 864.1,308.7 866.1,310C868.1,311.4 874,312.7 876,314C878,315.3 878.3,316.7 878,318C877.7,319.3 874.4,320.6 874,321.9C873.7,323.3 876.3,324.6 876,325.9C875.7,327.2 872,328.5 872,329.9C872,331.2 873.4,332.5 876,333.8C878.7,335.1 885.9,336.5 887.9,337.8C889.9,339.1 886.6,340.4 887.9,341.7C889.2,343.1 894,344.5 895.8,345.7C897.6,346.8 900.1,347.5 898.8,348.7C897.5,349.8 890.9,351.3 887.9,352.6C884.9,353.9 881,355.3 881,356.6C881,357.9 885.4,359.1 887.9,360.5C890.4,362 895,364 895.8,365.5C896.6,367 892.2,368.1 892.8,369.5C893.5,370.8 897.5,372.1 899.8,373.4C902.1,374.7 906.4,376.1 906.7,377.4C907,378.7 904.2,380.2 901.8,381.3C899.3,382.5 894.3,383.3 891.9,384.3C889.4,385.3 887.1,386.3 886.9,387.3C886.7,388.3 889.7,389.1 890.9,390.2C892,391.4 893.3,392.1 893.8,394.2C894.3,396.3 893.8,401.2 893.8,402.6L781.5,402.6 L781.5,226.9 Z" fill="#808080"/>
<path d="M929.5,41.3C929.5,42.7 929.6,48.2 929.5,50C929.3,51.7 930.1,51.1 928.5,51.9C926.8,52.8 921.4,53.9 919.6,54.9C917.8,55.9 916.9,56.7 917.6,57.9C918.3,59 923.5,60.5 923.5,61.8C923.5,63.2 919.6,64.5 917.6,65.8C915.6,67.1 911.3,68.4 911.7,69.8C912,71.1 916.6,72.6 919.6,73.7C922.5,74.9 926.8,75.5 929.5,76.7C932.1,77.8 933.1,79.3 935.4,80.6C937.7,82 944,83.3 943.3,84.6C942.7,85.9 936.4,87.4 931.5,88.6C926.5,89.7 913.6,90.4 913.6,91.5C913.6,92.7 925.5,94.3 931.5,95.5C937.4,96.7 949.9,97.3 949.3,98.5C948.6,99.6 933.8,101.1 927.5,102.4C921.2,103.7 914.6,105.2 911.7,106.4C908.7,107.5 908.4,108.2 909.7,109.4C911,110.5 917.3,112.3 919.6,113.3C921.9,114.3 924,114.5 923.5,115.3C923,116.1 917.3,117.3 916.6,118.3C915.9,119.3 918.1,120.3 919.6,121.2C921.1,122.2 926.2,122.8 925.5,123.8C924.9,124.8 918.9,126.1 915.6,127.2C912.3,128.2 908.4,129 905.7,130.1C903.1,131.3 902.7,132.8 899.8,134.1C896.8,135.4 891.2,136.7 887.9,138.1C884.6,139.4 880.3,140.7 880,142C879.6,143.3 886.6,144.8 885.9,146C885.3,147.1 880.3,148 876,149C871.7,150 863.5,150.9 860.2,151.9C856.9,152.9 856.2,153.7 856.2,154.9C856.2,156.1 859.2,157.7 860.2,158.9C861.2,160 863.1,160.8 862.1,161.8C861.2,162.8 855.7,163.6 854.2,164.8C852.7,166 854.1,167.4 853.2,168.8C852.4,170.1 849.4,171.4 849.3,172.7C849.1,174 851.6,175.4 852.2,176.7C852.9,178 855.9,179.5 853.2,180.6C850.6,181.8 842.2,182.6 836.4,183.6C830.6,184.6 822.9,185.4 818.6,186.6C814.3,187.7 813.3,189.1 810.7,190.5C808,192 804.4,194 802.7,195.5C801.1,197 800.8,198.1 800.8,199.5C800.8,200.8 803.1,202.1 802.7,203.4C802.4,204.7 801.4,206.1 798.8,207.4C796.1,208.7 789.7,210.2 786.9,211.3C784.1,212.5 782.8,213.8 782,214.3 L781.5,214.3 L781.5,226.9L782,226.9C783.8,227.5 789,229.5 792.8,230.8C796.6,232.2 802.4,233.6 804.7,234.8C807,236 808,236.8 806.7,237.8C805.4,238.8 798.8,239.8 796.8,240.7C794.8,241.7 793.8,242.7 794.8,243.7C795.8,244.7 799.1,245.5 802.7,246.7C806.4,247.8 813.8,249.5 816.6,250.6C819.4,251.8 818.6,252.5 819.6,253.6C820.6,254.8 820.4,256.3 822.5,257.6C824.7,258.9 829.5,260.4 832.4,261.5C835.4,262.7 838.7,263.6 840.4,264.5C842,265.4 843.3,265.9 842.3,266.9C841.4,267.9 835.4,269.4 834.4,270.4C833.4,271.5 834.8,272.3 836.4,273.4C838.1,274.6 841.7,276.1 844.3,277.4C847,278.7 850.3,280.2 852.2,281.3C854.2,282.5 856.5,283.3 856.2,284.3C855.9,285.3 851.3,286.3 850.3,287.3C849.3,288.3 848.6,289.1 850.3,290.2C851.9,291.4 857.5,292.9 860.2,294.2C862.8,295.5 864.6,296.8 866.1,298.2C867.6,299.5 869.4,300.8 869.1,302.1C868.7,303.4 864.6,304.8 864.1,306.1C863.6,307.4 864.1,308.7 866.1,310C868.1,311.4 874,312.7 876,314C878,315.3 878.3,316.7 878,318C877.7,319.3 874.4,320.6 874,321.9C873.7,323.3 876.3,324.6 876,325.9C875.7,327.2 872,328.5 872,329.9C872,331.2 873.4,332.5 876,333.8C878.7,335.1 885.9,336.5 887.9,337.8C889.9,339.1 886.6,340.4 887.9,341.7C889.2,343.1 894,344.5 895.8,345.7C897.6,346.8 900.1,347.5 898.8,348.7C897.5,349.8 890.9,351.3 887.9,352.6C884.9,353.9 881,355.3 881,356.6C881,357.9 885.4,359.1 887.9,360.5C890.4,362 895,364 895.8,365.5C896.6,367 892.2,368.1 892.8,369.5C893.5,370.8 897.5,372.1 899.8,373.4C902.1,374.7 906.4,376.1 906.7,377.4C907,378.7 904.2,380.2 901.8,381.3C899.3,382.5 894.3,383.3 891.9,384.3C889.4,385.3 887.1,386.3 886.9,387.3C886.7,388.3 889.7,389.1 890.9,390.2C892,391.4 893.3,392.1 893.8,394.2C894.3,396.3 893.8,401.2 893.8,402.6" fill="none" stroke="#000" stroke-width="3.5" stroke-linejoin="round"/>
</g>
<line x1="609.5" y1="222" x2="781.5" y2="222" stroke="#000" stroke-width="3.3" stroke-dasharray="12.9 5.6"/>
<line x1="781.5" y1="222" x2="953.5" y2="222" stroke="#000" stroke-width="3.3" stroke-dasharray="12.9 5.6"/>
<line x1="609.5" y1="51.3" x2="618" y2="51.3" stroke="#000" stroke-width="2.4"/>
<line x1="609.5" y1="136.6" x2="618" y2="136.6" stroke="#000" stroke-width="2.4"/>
<line x1="609.5" y1="221.9" x2="618" y2="221.9" stroke="#000" stroke-width="2.4"/>
<line x1="609.5" y1="307.3" x2="618" y2="307.3" stroke="#000" stroke-width="2.4"/>
<line x1="609.5" y1="392.6" x2="618" y2="392.6" stroke="#000" stroke-width="2.4"/>
<rect x="609.5" y="51.3" width="344" height="341.3" fill="none" stroke="#000" stroke-width="2.7"/>
<line x1="781.5" y1="51.3" x2="781.5" y2="392.6" stroke="#000" stroke-width="2.7"/>
<text x="598" y="63.1" text-anchor="end" font-size="30.5" letter-spacing="0.6">2</text>
<path d="M591.5,148.2L588.8,148.2L588.8,131.1Q587.8,132.1 586.2,133Q584.7,133.9 583.4,134.4L583.4,131.8Q585.7,130.7 587.4,129.2Q589,127.7 589.7,126.3L591.5,126.3Z" fill="#000"/>
<text x="598" y="233.8" text-anchor="end" font-size="30.5" letter-spacing="0.6">0</text>
<path d="M590.7,318.9L588,318.9L588,301.8Q587,302.7 585.4,303.6Q583.9,304.6 582.6,305L582.6,302.4Q584.9,301.4 586.6,299.9Q588.2,298.4 588.9,297L590.7,297Z" fill="#000"/>
<text x="579.5" y="319.1" text-anchor="end" font-size="30.5">−</text>
<text x="598" y="404.4" text-anchor="end" font-size="30.5" letter-spacing="0.6">−2</text>
<text x="696" y="429.9" text-anchor="middle" font-size="30.5" letter-spacing="1.0">DOS</text>
<text x="868" y="429.9" text-anchor="middle" font-size="30.5" letter-spacing="1.0">DOS</text>
<text x="696.2" y="29.9" text-anchor="middle" font-size="30.5" letter-spacing="1.05"><tspan font-style="italic">c</tspan>-ScSiTe<tspan font-size="20.5" dy="8.2">3</tspan></text>
<text x="868.2" y="29.9" text-anchor="middle" font-size="30.5" letter-spacing="1.05"><tspan font-style="italic">a</tspan>-ScSiTe<tspan font-size="20.5" dy="8.2">3</tspan></text>
<text x="495.2" y="29.6" font-size="32.5" letter-spacing="1.4">(b)</text>
<text transform="translate(535,302.5) rotate(-90)" font-size="30.5" letter-spacing="0.3"><tspan font-style="italic">E</tspan> – <tspan font-style="italic">E</tspan><tspan font-size="22" dy="8.6">F</tspan></text>
<text transform="translate(535,202.2) rotate(-90)" font-size="30.5">(eV)</text>
<clipPath id="k9"><rect x="1098.4" y="53.9" width="172" height="340.8"/></clipPath>
<g clip-path="url(#k9)">
<path d="M1159.3,43.9C1159.3,45.2 1159,50.2 1159.3,52C1159.7,53.7 1159,53.5 1161.3,54.3C1163.6,55.2 1168.6,56 1173.2,56.9C1177.8,57.8 1183.4,58.9 1189,59.9C1194.7,60.9 1201.9,61.9 1206.9,62.9C1211.8,63.8 1216.4,65 1218.8,65.8C1221.1,66.6 1222.4,67 1220.7,67.8C1219.1,68.6 1212.2,69.8 1208.9,70.8C1205.6,71.8 1204.2,72.6 1200.9,73.7C1197.6,74.9 1191.4,76.7 1189,77.7C1186.7,78.7 1185.4,78.9 1187.1,79.7C1188.7,80.5 1195.5,81.8 1199,82.7C1202.4,83.5 1209.5,84 1207.9,85C1206.2,86 1194.8,87.3 1189,88.6C1183.3,89.8 1176.3,91.4 1173.2,92.6C1170.1,93.7 1168.6,94.5 1170.2,95.5C1171.9,96.5 1179.5,97.5 1183.1,98.5C1186.7,99.5 1193,100.5 1192,101.5C1191,102.5 1182.3,103.4 1177.2,104.4C1172.1,105.4 1165,106.3 1161.3,107.4C1157.7,108.6 1158.4,110 1155.4,111.4C1152.4,112.7 1145.5,114.2 1143.5,115.3C1141.5,116.5 1142.5,117.1 1143.5,118.3C1144.5,119.5 1149.4,121.1 1149.4,122.3C1149.4,123.4 1147.8,124.1 1143.5,125.2C1139.2,126.4 1129,127.9 1123.7,129.2C1118.4,130.5 1114.3,132 1111.8,133.1C1109.3,134.3 1108.4,135 1108.9,136.1C1109.3,137.3 1115,138.8 1114.8,140.1C1114.6,141.4 1110.3,142.9 1107.9,144C1105.4,145.2 1101.5,145.9 1099.9,147C1098.4,148.2 1098.5,148.3 1098.4,151C1098.2,153.6 1098.7,160.2 1099,162.9C1099.2,165.5 1099.9,165.5 1099.9,166.8C1099.9,168.1 1099.1,170.1 1099,170.8L1098.4,170.8 L1098.4,43.9 Z" fill="#cccccc"/>
<path d="M1099,236.8C1099.9,237.3 1103.1,238.8 1104.9,239.8C1106.7,240.8 1109,241.8 1109.8,242.8C1110.7,243.7 1109.8,244.6 1109.8,245.7C1109.8,246.9 1109.3,248.2 1109.8,249.7C1110.3,251.2 1111.7,253 1112.8,254.6C1114,256.3 1115.9,258.1 1116.8,259.6C1117.6,261.1 1116.6,262.4 1117.8,263.5C1118.9,264.7 1122.4,265.6 1123.7,266.5C1125,267.4 1126.7,268.2 1125.7,269.1C1124.7,270 1119.7,271 1117.8,271.9C1115.8,272.8 1111.8,273.5 1113.8,274.4C1115.8,275.4 1123.7,276.4 1129.6,277.4C1135.6,278.4 1143.5,279.4 1149.4,280.4C1155.4,281.4 1161,282.3 1165.3,283.3C1169.6,284.4 1175.2,285.8 1175.2,286.9C1175.2,288.1 1167.9,289.3 1165.3,290.3C1162.6,291.3 1156.4,292 1159.3,292.9C1162.3,293.7 1174.2,294.8 1183.1,295.6C1192,296.4 1204.7,296.9 1212.8,297.6C1220.9,298.3 1231.6,298.8 1231.6,299.6C1231.6,300.3 1222.5,301.2 1212.8,302.2C1203.1,303.1 1184.4,304.1 1173.2,305.1C1162,306.1 1148.8,307.1 1145.5,308.1C1142.2,309.1 1148.1,310.1 1153.4,311.1C1158.7,312.1 1170.7,313 1177.2,314C1183.6,315 1189.4,316.1 1192,317C1194.7,317.9 1195.2,318.4 1193,319.4C1190.9,320.4 1183.8,321.5 1179.1,323C1174.5,324.4 1168.1,326.5 1165.3,327.9C1162.5,329.3 1160.3,330.1 1162.3,331.3C1164.3,332.4 1171.4,333.6 1177.2,334.8C1182.9,336.1 1192.5,337.6 1197,338.8C1201.4,339.9 1205.6,340.6 1203.9,341.8C1202.3,342.9 1191.9,344.6 1187.1,345.7C1182.3,346.9 1175.8,347.5 1175.2,348.7C1174.5,349.8 1183.4,351.3 1183.1,352.7C1182.8,354 1176.8,355.4 1173.2,356.6C1169.6,357.9 1162.6,359 1161.3,360.2C1160,361.3 1166.6,362.5 1165.3,363.5C1164,364.6 1158.7,365.5 1153.4,366.5C1148.1,367.5 1138.6,368.5 1133.6,369.5C1128.7,370.5 1123.7,371.3 1123.7,372.5C1123.7,373.6 1131.5,375.3 1133.6,376.4C1135.7,377.6 1134.6,378.4 1136.6,379.4C1138.6,380.4 1141.4,381.4 1145.5,382.4C1149.6,383.3 1157.5,384.4 1161.3,385.3C1165.1,386.3 1170.2,387 1168.3,387.9C1166.3,388.8 1156.9,389.8 1149.4,390.7C1142,391.6 1131,392.3 1123.7,393.2C1116.4,394.2 1108.9,394.3 1105.9,396.2C1102.9,398.1 1105.9,403.3 1105.9,404.7L1098.4,404.7 L1098.4,236.8 Z" fill="#808080"/>
<path d="M1159.3,43.9C1159.3,45.2 1159,50.2 1159.3,52C1159.7,53.7 1159,53.5 1161.3,54.3C1163.6,55.2 1168.6,56 1173.2,56.9C1177.8,57.8 1183.4,58.9 1189,59.9C1194.7,60.9 1201.9,61.9 1206.9,62.9C1211.8,63.8 1216.4,65 1218.8,65.8C1221.1,66.6 1222.4,67 1220.7,67.8C1219.1,68.6 1212.2,69.8 1208.9,70.8C1205.6,71.8 1204.2,72.6 1200.9,73.7C1197.6,74.9 1191.4,76.7 1189,77.7C1186.7,78.7 1185.4,78.9 1187.1,79.7C1188.7,80.5 1195.5,81.8 1199,82.7C1202.4,83.5 1209.5,84 1207.9,85C1206.2,86 1194.8,87.3 1189,88.6C1183.3,89.8 1176.3,91.4 1173.2,92.6C1170.1,93.7 1168.6,94.5 1170.2,95.5C1171.9,96.5 1179.5,97.5 1183.1,98.5C1186.7,99.5 1193,100.5 1192,101.5C1191,102.5 1182.3,103.4 1177.2,104.4C1172.1,105.4 1165,106.3 1161.3,107.4C1157.7,108.6 1158.4,110 1155.4,111.4C1152.4,112.7 1145.5,114.2 1143.5,115.3C1141.5,116.5 1142.5,117.1 1143.5,118.3C1144.5,119.5 1149.4,121.1 1149.4,122.3C1149.4,123.4 1147.8,124.1 1143.5,125.2C1139.2,126.4 1129,127.9 1123.7,129.2C1118.4,130.5 1114.3,132 1111.8,133.1C1109.3,134.3 1108.4,135 1108.9,136.1C1109.3,137.3 1115,138.8 1114.8,140.1C1114.6,141.4 1110.3,142.9 1107.9,144C1105.4,145.2 1101.5,145.9 1099.9,147C1098.4,148.2 1098.5,148.3 1098.4,151C1098.2,153.6 1098.7,160.2 1099,162.9C1099.2,165.5 1099.9,165.5 1099.9,166.8C1099.9,168.1 1099.1,170.1 1099,170.8 L1098.4,170.8 L1098.4,236.8L1099,236.8C1099.9,237.3 1103.1,238.8 1104.9,239.8C1106.7,240.8 1109,241.8 1109.8,242.8C1110.7,243.7 1109.8,244.6 1109.8,245.7C1109.8,246.9 1109.3,248.2 1109.8,249.7C1110.3,251.2 1111.7,253 1112.8,254.6C1114,256.3 1115.9,258.1 1116.8,259.6C1117.6,261.1 1116.6,262.4 1117.8,263.5C1118.9,264.7 1122.4,265.6 1123.7,266.5C1125,267.4 1126.7,268.2 1125.7,269.1C1124.7,270 1119.7,271 1117.8,271.9C1115.8,272.8 1111.8,273.5 1113.8,274.4C1115.8,275.4 1123.7,276.4 1129.6,277.4C1135.6,278.4 1143.5,279.4 1149.4,280.4C1155.4,281.4 1161,282.3 1165.3,283.3C1169.6,284.4 1175.2,285.8 1175.2,286.9C1175.2,288.1 1167.9,289.3 1165.3,290.3C1162.6,291.3 1156.4,292 1159.3,292.9C1162.3,293.7 1174.2,294.8 1183.1,295.6C1192,296.4 1204.7,296.9 1212.8,297.6C1220.9,298.3 1231.6,298.8 1231.6,299.6C1231.6,300.3 1222.5,301.2 1212.8,302.2C1203.1,303.1 1184.4,304.1 1173.2,305.1C1162,306.1 1148.8,307.1 1145.5,308.1C1142.2,309.1 1148.1,310.1 1153.4,311.1C1158.7,312.1 1170.7,313 1177.2,314C1183.6,315 1189.4,316.1 1192,317C1194.7,317.9 1195.2,318.4 1193,319.4C1190.9,320.4 1183.8,321.5 1179.1,323C1174.5,324.4 1168.1,326.5 1165.3,327.9C1162.5,329.3 1160.3,330.1 1162.3,331.3C1164.3,332.4 1171.4,333.6 1177.2,334.8C1182.9,336.1 1192.5,337.6 1197,338.8C1201.4,339.9 1205.6,340.6 1203.9,341.8C1202.3,342.9 1191.9,344.6 1187.1,345.7C1182.3,346.9 1175.8,347.5 1175.2,348.7C1174.5,349.8 1183.4,351.3 1183.1,352.7C1182.8,354 1176.8,355.4 1173.2,356.6C1169.6,357.9 1162.6,359 1161.3,360.2C1160,361.3 1166.6,362.5 1165.3,363.5C1164,364.6 1158.7,365.5 1153.4,366.5C1148.1,367.5 1138.6,368.5 1133.6,369.5C1128.7,370.5 1123.7,371.3 1123.7,372.5C1123.7,373.6 1131.5,375.3 1133.6,376.4C1135.7,377.6 1134.6,378.4 1136.6,379.4C1138.6,380.4 1141.4,381.4 1145.5,382.4C1149.6,383.3 1157.5,384.4 1161.3,385.3C1165.1,386.3 1170.2,387 1168.3,387.9C1166.3,388.8 1156.9,389.8 1149.4,390.7C1142,391.6 1131,392.3 1123.7,393.2C1116.4,394.2 1108.9,394.3 1105.9,396.2C1102.9,398.1 1105.9,403.3 1105.9,404.7" fill="none" stroke="#000" stroke-width="3.5" stroke-linejoin="round"/>
</g>
<clipPath id="k10"><rect x="1270.4" y="53.9" width="172" height="340.8"/></clipPath>
<g clip-path="url(#k10)">
<path d="M1365,43.9C1365,45.2 1364.7,50.1 1365,52C1365.3,53.8 1365.8,53.8 1367,54.9C1368.1,56.1 1372.8,57.6 1371.9,58.9C1371.1,60.2 1363.5,61.5 1362,62.9C1360.6,64.2 1362.2,65.5 1363,66.8C1363.9,68.1 1366.3,69.5 1367,70.8C1367.7,72.1 1366.5,73.4 1367,74.7C1367.5,76.1 1368.6,77.2 1370,78.7C1371.3,80.2 1375.7,82.2 1374.9,83.6C1374.1,85.1 1368.5,86.3 1365,87.6C1361.5,88.9 1356.1,90.4 1354.1,91.6C1352.1,92.7 1351.3,93.5 1353.1,94.5C1354.9,95.5 1361.5,96.4 1365,97.5C1368.5,98.6 1374.6,99.7 1373.9,101.1C1373.3,102.4 1364.2,104 1361,105.4C1357.9,106.8 1355.1,108.2 1355.1,109.4C1355.1,110.5 1358.7,111.3 1361,112.4C1363.4,113.4 1369.3,114.6 1369,115.7C1368.6,116.9 1361.7,118 1359.1,119.3C1356.4,120.5 1354.1,121.9 1353.1,123.2C1352.1,124.6 1353,125.9 1353.1,127.2C1353.3,128.5 1353.8,129.8 1354.1,131.2C1354.4,132.5 1354.3,133.8 1355.1,135.1C1355.9,136.4 1357.9,137.8 1359.1,139.1C1360.2,140.3 1363.7,141.5 1362,142.7C1360.4,143.8 1353.1,145 1349.2,146C1345.2,147.1 1338.9,148 1338.3,149C1337.6,150 1342.9,151 1345.2,152C1347.5,153 1352.5,153.8 1352.1,154.9C1351.8,156.1 1346.5,157.6 1343.2,158.9C1339.9,160.2 1333.3,161.7 1332.3,162.9C1331.3,164 1336,164.9 1337.3,165.8C1338.6,166.7 1341.2,167.4 1340.3,168.4C1339.3,169.4 1333.7,170.5 1331.3,171.8C1329,173 1326.7,174.4 1326.4,175.7C1326.1,177 1328.4,178.5 1329.4,179.7C1330.4,180.9 1334,182.1 1332.3,183C1330.7,184 1323.9,184.9 1319.5,185.6C1315,186.4 1308.6,186.8 1305.6,187.6C1302.6,188.4 1302.1,189.4 1301.6,190.6C1301.1,191.7 1302.1,193.2 1302.6,194.5C1303.1,195.9 1305.8,197.3 1304.6,198.5C1303.5,199.7 1299.5,200.5 1295.7,201.5C1291.9,202.5 1284.5,203.4 1281.8,204.4C1279.2,205.4 1279.4,206.4 1279.9,207.4C1280.4,208.4 1285.1,209.4 1284.8,210.4C1284.5,211.4 1280.2,212.4 1277.9,213.3C1275.6,214.3 1272.2,215.2 1271,216.3C1269.7,217.5 1270.5,219.6 1270.4,220.3L1270.4,220.3 L1270.4,43.9 Z" fill="#cccccc"/>
<path d="M1271,229.9C1272.1,230.4 1275.6,231.9 1277.9,232.9C1280.2,233.8 1283.2,234.8 1284.8,235.8C1286.5,236.8 1285.6,237.8 1287.8,238.8C1289.9,239.8 1294.4,240.8 1297.7,241.8C1301,242.8 1306.9,243.7 1307.6,244.7C1308.2,245.7 1303,246.7 1301.6,247.7C1300.3,248.7 1298,249.7 1299.7,250.7C1301.3,251.7 1307.6,252.7 1311.5,253.6C1315.5,254.6 1321.1,255.8 1323.4,256.6C1325.7,257.4 1325.7,257.8 1325.4,258.6C1325.1,259.4 1320.5,260.6 1321.4,261.6C1322.4,262.6 1327.7,263.5 1331.3,264.5C1335,265.5 1340.8,266.6 1343.2,267.5C1345.7,268.4 1346.9,268.9 1346.2,269.9C1345.5,270.9 1341.4,272.2 1339.3,273.4C1337.1,274.7 1332,276.2 1333.3,277.4C1334.6,278.7 1343.2,279.9 1347.2,281C1351.1,282 1358.1,282.7 1357.1,283.7C1356.1,284.8 1345,286.2 1341.2,287.3C1337.5,288.4 1332.7,289.1 1334.3,290.3C1336,291.4 1346,293.1 1351.1,294.2C1356.3,295.4 1361.5,296.2 1365,297.2C1368.5,298.2 1373.3,299 1371.9,300.2C1370.6,301.3 1361.9,302.8 1357.1,304.1C1352.3,305.5 1344.2,306.9 1343.2,308.1C1342.2,309.3 1348.3,309.9 1351.1,311.1C1354,312.2 1357.7,313.9 1360.1,315C1362.4,316.2 1362.9,316.8 1365,318C1367.2,319.2 1372.9,320.6 1372.9,322C1372.9,323.3 1366.5,324.6 1365,325.9C1363.5,327.2 1363.4,328.6 1364,329.9C1364.7,331.2 1368.8,332.5 1369,333.8C1369.1,335.2 1365.3,336.5 1365,337.8C1364.7,339.1 1366,340.6 1367,341.8C1368,342.9 1371.9,343.6 1371,344.7C1370,345.9 1363.4,347.4 1361,348.7C1358.7,350 1358.6,351.3 1357.1,352.7C1355.6,354 1353.1,355.5 1352.1,356.6C1351.1,357.8 1349.3,358.4 1351.1,359.6C1353,360.7 1360.9,362.6 1363,363.5C1365.2,364.5 1365.7,364.5 1364,365.5C1362.4,366.5 1354.6,368.2 1353.1,369.5C1351.6,370.8 1354.1,372 1355.1,373.4C1356.1,374.9 1358.2,376.9 1359.1,378.4C1359.9,379.9 1359.7,381 1360.1,382.4C1360.4,383.7 1360.6,385.2 1361,386.3C1361.5,387.5 1363,388.1 1363,389.3C1363,390.4 1361.4,392.1 1361,393.2C1360.7,394.4 1361,394.3 1361,396.2C1361,398.1 1361,403.3 1361,404.7L1270.4,404.7 L1270.4,229.9 Z" fill="#808080"/>
<path d="M1365,43.9C1365,45.2 1364.7,50.1 1365,52C1365.3,53.8 1365.8,53.8 1367,54.9C1368.1,56.1 1372.8,57.6 1371.9,58.9C1371.1,60.2 1363.5,61.5 1362,62.9C1360.6,64.2 1362.2,65.5 1363,66.8C1363.9,68.1 1366.3,69.5 1367,70.8C1367.7,72.1 1366.5,73.4 1367,74.7C1367.5,76.1 1368.6,77.2 1370,78.7C1371.3,80.2 1375.7,82.2 1374.9,83.6C1374.1,85.1 1368.5,86.3 1365,87.6C1361.5,88.9 1356.1,90.4 1354.1,91.6C1352.1,92.7 1351.3,93.5 1353.1,94.5C1354.9,95.5 1361.5,96.4 1365,97.5C1368.5,98.6 1374.6,99.7 1373.9,101.1C1373.3,102.4 1364.2,104 1361,105.4C1357.9,106.8 1355.1,108.2 1355.1,109.4C1355.1,110.5 1358.7,111.3 1361,112.4C1363.4,113.4 1369.3,114.6 1369,115.7C1368.6,116.9 1361.7,118 1359.1,119.3C1356.4,120.5 1354.1,121.9 1353.1,123.2C1352.1,124.6 1353,125.9 1353.1,127.2C1353.3,128.5 1353.8,129.8 1354.1,131.2C1354.4,132.5 1354.3,133.8 1355.1,135.1C1355.9,136.4 1357.9,137.8 1359.1,139.1C1360.2,140.3 1363.7,141.5 1362,142.7C1360.4,143.8 1353.1,145 1349.2,146C1345.2,147.1 1338.9,148 1338.3,149C1337.6,150 1342.9,151 1345.2,152C1347.5,153 1352.5,153.8 1352.1,154.9C1351.8,156.1 1346.5,157.6 1343.2,158.9C1339.9,160.2 1333.3,161.7 1332.3,162.9C1331.3,164 1336,164.9 1337.3,165.8C1338.6,166.7 1341.2,167.4 1340.3,168.4C1339.3,169.4 1333.7,170.5 1331.3,171.8C1329,173 1326.7,174.4 1326.4,175.7C1326.1,177 1328.4,178.5 1329.4,179.7C1330.4,180.9 1334,182.1 1332.3,183C1330.7,184 1323.9,184.9 1319.5,185.6C1315,186.4 1308.6,186.8 1305.6,187.6C1302.6,188.4 1302.1,189.4 1301.6,190.6C1301.1,191.7 1302.1,193.2 1302.6,194.5C1303.1,195.9 1305.8,197.3 1304.6,198.5C1303.5,199.7 1299.5,200.5 1295.7,201.5C1291.9,202.5 1284.5,203.4 1281.8,204.4C1279.2,205.4 1279.4,206.4 1279.9,207.4C1280.4,208.4 1285.1,209.4 1284.8,210.4C1284.5,211.4 1280.2,212.4 1277.9,213.3C1275.6,214.3 1272.2,215.2 1271,216.3C1269.7,217.5 1270.5,219.6 1270.4,220.3 L1270.4,220.3 L1270.4,229.9L1271,229.9C1272.1,230.4 1275.6,231.9 1277.9,232.9C1280.2,233.8 1283.2,234.8 1284.8,235.8C1286.5,236.8 1285.6,237.8 1287.8,238.8C1289.9,239.8 1294.4,240.8 1297.7,241.8C1301,242.8 1306.9,243.7 1307.6,244.7C1308.2,245.7 1303,246.7 1301.6,247.7C1300.3,248.7 1298,249.7 1299.7,250.7C1301.3,251.7 1307.6,252.7 1311.5,253.6C1315.5,254.6 1321.1,255.8 1323.4,256.6C1325.7,257.4 1325.7,257.8 1325.4,258.6C1325.1,259.4 1320.5,260.6 1321.4,261.6C1322.4,262.6 1327.7,263.5 1331.3,264.5C1335,265.5 1340.8,266.6 1343.2,267.5C1345.7,268.4 1346.9,268.9 1346.2,269.9C1345.5,270.9 1341.4,272.2 1339.3,273.4C1337.1,274.7 1332,276.2 1333.3,277.4C1334.6,278.7 1343.2,279.9 1347.2,281C1351.1,282 1358.1,282.7 1357.1,283.7C1356.1,284.8 1345,286.2 1341.2,287.3C1337.5,288.4 1332.7,289.1 1334.3,290.3C1336,291.4 1346,293.1 1351.1,294.2C1356.3,295.4 1361.5,296.2 1365,297.2C1368.5,298.2 1373.3,299 1371.9,300.2C1370.6,301.3 1361.9,302.8 1357.1,304.1C1352.3,305.5 1344.2,306.9 1343.2,308.1C1342.2,309.3 1348.3,309.9 1351.1,311.1C1354,312.2 1357.7,313.9 1360.1,315C1362.4,316.2 1362.9,316.8 1365,318C1367.2,319.2 1372.9,320.6 1372.9,322C1372.9,323.3 1366.5,324.6 1365,325.9C1363.5,327.2 1363.4,328.6 1364,329.9C1364.7,331.2 1368.8,332.5 1369,333.8C1369.1,335.2 1365.3,336.5 1365,337.8C1364.7,339.1 1366,340.6 1367,341.8C1368,342.9 1371.9,343.6 1371,344.7C1370,345.9 1363.4,347.4 1361,348.7C1358.7,350 1358.6,351.3 1357.1,352.7C1355.6,354 1353.1,355.5 1352.1,356.6C1351.1,357.8 1349.3,358.4 1351.1,359.6C1353,360.7 1360.9,362.6 1363,363.5C1365.2,364.5 1365.7,364.5 1364,365.5C1362.4,366.5 1354.6,368.2 1353.1,369.5C1351.6,370.8 1354.1,372 1355.1,373.4C1356.1,374.9 1358.2,376.9 1359.1,378.4C1359.9,379.9 1359.7,381 1360.1,382.4C1360.4,383.7 1360.6,385.2 1361,386.3C1361.5,387.5 1363,388.1 1363,389.3C1363,390.4 1361.4,392.1 1361,393.2C1360.7,394.4 1361,394.3 1361,396.2C1361,398.1 1361,403.3 1361,404.7" fill="none" stroke="#000" stroke-width="3.5" stroke-linejoin="round"/>
</g>
<line x1="1098.4" y1="224.3" x2="1270.4" y2="224.3" stroke="#000" stroke-width="3.3" stroke-dasharray="12.9 5.6"/>
<line x1="1270.4" y1="224.3" x2="1442.4" y2="224.3" stroke="#000" stroke-width="3.3" stroke-dasharray="12.9 5.6"/>
<line x1="1098.4" y1="53.9" x2="1106.9" y2="53.9" stroke="#000" stroke-width="2.4"/>
<line x1="1098.4" y1="139.1" x2="1106.9" y2="139.1" stroke="#000" stroke-width="2.4"/>
<line x1="1098.4" y1="224.3" x2="1106.9" y2="224.3" stroke="#000" stroke-width="2.4"/>
<line x1="1098.4" y1="309.5" x2="1106.9" y2="309.5" stroke="#000" stroke-width="2.4"/>
<line x1="1098.4" y1="394.7" x2="1106.9" y2="394.7" stroke="#000" stroke-width="2.4"/>
<rect x="1098.4" y="53.9" width="344" height="340.8" fill="none" stroke="#000" stroke-width="2.7"/>
<line x1="1270.4" y1="53.9" x2="1270.4" y2="394.7" stroke="#000" stroke-width="2.7"/>
<text x="1086.9" y="65.7" text-anchor="end" font-size="30.5" letter-spacing="0.6">2</text>
<path d="M1080.4,150.7L1077.7,150.7L1077.7,133.6Q1076.7,134.5 1075.1,135.5Q1073.6,136.4 1072.3,136.8L1072.3,134.3Q1074.6,133.2 1076.3,131.7Q1077.9,130.2 1078.6,128.8L1080.4,128.8Z" fill="#000"/>
<text x="1086.9" y="236.1" text-anchor="end" font-size="30.5" letter-spacing="0.6">0</text>
<path d="M1079.6,321.1L1076.9,321.1L1076.9,304Q1075.9,304.9 1074.3,305.9Q1072.8,306.8 1071.5,307.2L1071.5,304.7Q1073.8,303.6 1075.5,302.1Q1077.1,300.6 1077.8,299.2L1079.6,299.2Z" fill="#000"/>
<text x="1068.4" y="321.3" text-anchor="end" font-size="30.5">−</text>
<text x="1086.9" y="406.5" text-anchor="end" font-size="30.5" letter-spacing="0.6">−2</text>
<text x="1184.9" y="432" text-anchor="middle" font-size="30.5" letter-spacing="1.0">DOS</text>
<text x="1356.9" y="432" text-anchor="middle" font-size="30.5" letter-spacing="1.0">DOS</text>
<text x="1185.1" y="32.5" text-anchor="middle" font-size="30.5" letter-spacing="1.05"><tspan font-style="italic">c</tspan>-BiSiTe<tspan font-size="20.5" dy="8.2">3</tspan></text>
<text x="1357.1" y="32.5" text-anchor="middle" font-size="30.5" letter-spacing="1.05"><tspan font-style="italic">a</tspan>-BiSiTe<tspan font-size="20.5" dy="8.2">3</tspan></text>
<text x="980.4" y="29.6" font-size="32.5" letter-spacing="1.4">(c)</text>
<text transform="translate(1023.9,304.8) rotate(-90)" font-size="30.5" letter-spacing="0.3"><tspan font-style="italic">E</tspan> – <tspan font-style="italic">E</tspan><tspan font-size="22" dy="8.6">F</tspan></text>
<text transform="translate(1023.9,204.5) rotate(-90)" font-size="30.5">(eV)</text>
<clipPath id="k11"><rect x="115.6" y="525.8" width="172.1" height="341.1"/></clipPath>
<g clip-path="url(#k11)">
<path d="M115.9,515.8C115.9,518.3 115.1,527.9 115.9,530.9C116.8,533.9 119.6,532.7 120.9,533.9C122.2,535 123,536.7 123.9,537.8C124.7,539 123.9,539.8 125.8,540.8C127.8,541.8 130.1,542.8 135.7,543.8C141.4,544.8 151.3,545.7 159.5,546.7C167.8,547.7 178.3,548.7 185.2,549.7C192.2,550.7 197.3,551.6 201.1,552.7C204.9,553.7 209,554.9 208,556C207,557.2 200.6,558.5 195.1,559.6C189.7,560.7 179.3,561.6 175.3,562.6C171.4,563.6 170.1,564.5 171.4,565.5C172.7,566.6 180.1,568 183.3,569.1C186.4,570.3 191.5,571.4 190.2,572.5C188.9,573.5 180.8,574.5 175.3,575.4C169.9,576.4 161.2,577.4 157.5,578.4C153.9,579.4 153.6,580.2 153.6,581.4C153.6,582.5 156.7,583.7 157.5,585.3C158.3,587 158.5,589.5 158.5,591.3C158.5,593.1 159,594.9 157.5,596.2C156,597.6 152.1,598.1 149.6,599.2C147.1,600.4 141.4,601.8 142.7,603.2C144,604.5 153.2,606 157.5,607.1C161.8,608.3 167.8,609.1 168.4,610.1C169.1,611.1 164,612.1 161.5,613.1C159,614.1 153.6,615 153.6,616C153.6,617 157.9,617.9 161.5,619C165.1,620.1 175,621.3 175.3,622.6C175.7,623.9 168.7,625.5 163.5,626.9C158.2,628.3 148.8,629.7 143.7,630.9C138.5,632 133.8,632.9 132.8,633.9C131.8,634.9 136.2,635.9 137.7,636.8C139.2,637.8 142.7,638.4 141.7,639.4C140.7,640.4 135.7,641.6 131.8,642.8C127.8,644 120.6,645.6 117.9,646.7C115.3,647.9 115.6,648.5 115.9,649.7C116.3,650.9 119.1,652.5 119.9,653.7C120.7,654.8 121.2,655.6 120.9,656.6C120.6,657.6 118.7,658.6 117.9,659.6C117.1,660.6 116.3,662.1 115.9,662.6L115.6,662.6 L115.6,515.8 Z" fill="#cccccc"/>
<path d="M115.9,705.8C116.3,706.5 115.9,708.5 117.9,709.8C119.9,711.1 123.2,712.4 127.8,713.8C132.4,715.1 138.7,716.6 145.6,717.7C152.6,718.9 161.5,719.7 169.4,720.7C177.3,721.7 185.6,722.8 193.2,723.7C200.8,724.5 209,724.9 215,725.6C220.9,726.4 229.8,727.2 228.8,728C227.8,728.8 216.9,729.7 209,730.6C201.1,731.5 186.6,732.7 181.3,733.6C176,734.5 176.3,735.1 177.3,735.9C178.3,736.8 185.4,737.7 187.2,738.5C189,739.4 189,740.1 188.2,741.1C187.4,742.1 182.3,743.4 182.3,744.5C182.3,745.5 186.2,746.4 188.2,747.4C190.2,748.4 194.3,749.4 194.2,750.4C194,751.4 188.1,752.4 187.2,753.4C186.4,754.4 187.6,755.3 189.2,756.3C190.9,757.3 195.1,758.5 197.1,759.3C199.1,760.1 202.1,760.3 201.1,761.3C200.1,762.3 193.8,763.9 191.2,765.2C188.5,766.6 186.4,767.9 185.2,769.2C184.1,770.5 183.8,772 184.3,773.2C184.8,774.3 189,775.1 188.2,776.1C187.4,777.1 182.8,778 179.3,779.1C175.8,780.2 169.6,781.6 167.4,782.7C165.3,783.7 163.8,784.4 166.4,785.4C169.1,786.5 178,787.9 183.3,789C188.5,790.1 197.8,791 198.1,792C198.4,793 189.7,794 185.2,795C180.8,795.9 174,796.9 171.4,797.9C168.7,798.9 168.4,799.7 169.4,800.9C170.4,802 175,803.5 177.3,804.9C179.6,806.2 184.9,807.5 183.3,808.8C181.6,810.1 172.7,811.5 167.4,812.8C162.1,814.1 154.7,815.7 151.6,816.7C148.4,817.7 147,817.7 148.6,818.7C150.3,819.7 158.7,821.4 161.5,822.7C164.3,824 163.1,825.5 165.4,826.6C167.8,827.8 172.9,828.6 175.3,829.6C177.8,830.6 179,831.4 180.3,832.6C181.6,833.7 181.1,835.2 183.3,836.5C185.4,837.9 190.9,839.2 193.2,840.5C195.5,841.8 195.8,843.1 197.1,844.5C198.4,845.8 199.1,847.3 201.1,848.4C203.1,849.6 206.9,850.5 209,851.4C211.2,852.3 214,853 214,854C214,855 210.8,856.1 209,857.3C207.2,858.5 206.7,860 203.1,861.3C199.4,862.6 191.8,864.1 187.2,865.2C182.6,866.4 177.3,866.3 175.3,868.2C173.4,870.2 175.3,875.5 175.3,876.9L115.6,876.9 L115.6,705.8 Z" fill="#808080"/>
<path d="M115.9,515.8C115.9,518.3 115.1,527.9 115.9,530.9C116.8,533.9 119.6,532.7 120.9,533.9C122.2,535 123,536.7 123.9,537.8C124.7,539 123.9,539.8 125.8,540.8C127.8,541.8 130.1,542.8 135.7,543.8C141.4,544.8 151.3,545.7 159.5,546.7C167.8,547.7 178.3,548.7 185.2,549.7C192.2,550.7 197.3,551.6 201.1,552.7C204.9,553.7 209,554.9 208,556C207,557.2 200.6,558.5 195.1,559.6C189.7,560.7 179.3,561.6 175.3,562.6C171.4,563.6 170.1,564.5 171.4,565.5C172.7,566.6 180.1,568 183.3,569.1C186.4,570.3 191.5,571.4 190.2,572.5C188.9,573.5 180.8,574.5 175.3,575.4C169.9,576.4 161.2,577.4 157.5,578.4C153.9,579.4 153.6,580.2 153.6,581.4C153.6,582.5 156.7,583.7 157.5,585.3C158.3,587 158.5,589.5 158.5,591.3C158.5,593.1 159,594.9 157.5,596.2C156,597.6 152.1,598.1 149.6,599.2C147.1,600.4 141.4,601.8 142.7,603.2C144,604.5 153.2,606 157.5,607.1C161.8,608.3 167.8,609.1 168.4,610.1C169.1,611.1 164,612.1 161.5,613.1C159,614.1 153.6,615 153.6,616C153.6,617 157.9,617.9 161.5,619C165.1,620.1 175,621.3 175.3,622.6C175.7,623.9 168.7,625.5 163.5,626.9C158.2,628.3 148.8,629.7 143.7,630.9C138.5,632 133.8,632.9 132.8,633.9C131.8,634.9 136.2,635.9 137.7,636.8C139.2,637.8 142.7,638.4 141.7,639.4C140.7,640.4 135.7,641.6 131.8,642.8C127.8,644 120.6,645.6 117.9,646.7C115.3,647.9 115.6,648.5 115.9,649.7C116.3,650.9 119.1,652.5 119.9,653.7C120.7,654.8 121.2,655.6 120.9,656.6C120.6,657.6 118.7,658.6 117.9,659.6C117.1,660.6 116.3,662.1 115.9,662.6 L115.6,662.6 L115.6,705.8L115.9,705.8C116.3,706.5 115.9,708.5 117.9,709.8C119.9,711.1 123.2,712.4 127.8,713.8C132.4,715.1 138.7,716.6 145.6,717.7C152.6,718.9 161.5,719.7 169.4,720.7C177.3,721.7 185.6,722.8 193.2,723.7C200.8,724.5 209,724.9 215,725.6C220.9,726.4 229.8,727.2 228.8,728C227.8,728.8 216.9,729.7 209,730.6C201.1,731.5 186.6,732.7 181.3,733.6C176,734.5 176.3,735.1 177.3,735.9C178.3,736.8 185.4,737.7 187.2,738.5C189,739.4 189,740.1 188.2,741.1C187.4,742.1 182.3,743.4 182.3,744.5C182.3,745.5 186.2,746.4 188.2,747.4C190.2,748.4 194.3,749.4 194.2,750.4C194,751.4 188.1,752.4 187.2,753.4C186.4,754.4 187.6,755.3 189.2,756.3C190.9,757.3 195.1,758.5 197.1,759.3C199.1,760.1 202.1,760.3 201.1,761.3C200.1,762.3 193.8,763.9 191.2,765.2C188.5,766.6 186.4,767.9 185.2,769.2C184.1,770.5 183.8,772 184.3,773.2C184.8,774.3 189,775.1 188.2,776.1C187.4,777.1 182.8,778 179.3,779.1C175.8,780.2 169.6,781.6 167.4,782.7C165.3,783.7 163.8,784.4 166.4,785.4C169.1,786.5 178,787.9 183.3,789C188.5,790.1 197.8,791 198.1,792C198.4,793 189.7,794 185.2,795C180.8,795.9 174,796.9 171.4,797.9C168.7,798.9 168.4,799.7 169.4,800.9C170.4,802 175,803.5 177.3,804.9C179.6,806.2 184.9,807.5 183.3,808.8C181.6,810.1 172.7,811.5 167.4,812.8C162.1,814.1 154.7,815.7 151.6,816.7C148.4,817.7 147,817.7 148.6,818.7C150.3,819.7 158.7,821.4 161.5,822.7C164.3,824 163.1,825.5 165.4,826.6C167.8,827.8 172.9,828.6 175.3,829.6C177.8,830.6 179,831.4 180.3,832.6C181.6,833.7 181.1,835.2 183.3,836.5C185.4,837.9 190.9,839.2 193.2,840.5C195.5,841.8 195.8,843.1 197.1,844.5C198.4,845.8 199.1,847.3 201.1,848.4C203.1,849.6 206.9,850.5 209,851.4C211.2,852.3 214,853 214,854C214,855 210.8,856.1 209,857.3C207.2,858.5 206.7,860 203.1,861.3C199.4,862.6 191.8,864.1 187.2,865.2C182.6,866.4 177.3,866.3 175.3,868.2C173.4,870.2 175.3,875.5 175.3,876.9" fill="none" stroke="#000" stroke-width="3.5" stroke-linejoin="round"/>
</g>
<clipPath id="k12"><rect x="287.7" y="525.8" width="172.1" height="341.1"/></clipPath>
<g clip-path="url(#k12)">
<path d="M359.2,515.8C359.2,517.2 359.1,522.2 359.2,524C359.4,525.7 359.1,525.5 360.2,526.3C361.4,527.2 364.4,527.8 366.2,528.9C368,530 372.4,531.6 371.1,532.9C369.8,534.2 362.4,535.7 358.2,536.8C354.1,538 347.4,538.8 346.4,539.8C345.4,540.8 349.8,541.8 352.3,542.8C354.8,543.8 361.1,544.6 361.2,545.7C361.4,546.9 354.5,548.5 353.3,549.7C352.1,550.9 353.5,551.7 354.3,552.7C355.1,553.7 358.7,554.7 358.2,555.6C357.8,556.6 352.6,557.5 351.3,558.6C350,559.8 350.3,561.3 350.3,562.6C350.3,563.9 350.7,565 351.3,566.5C352,568 353.3,570 354.3,571.5C355.3,573 355.6,574.3 357.3,575.4C358.9,576.6 362.4,577.1 364.2,578.4C366,579.7 367,581.7 368.1,583.4C369.3,585 374.4,586.8 371.1,588.3C367.8,589.8 355.4,591.1 348.3,592.3C341.3,593.4 332.3,594.4 328.5,595.2C324.7,596.1 324.3,596.8 325.6,597.6C326.9,598.4 332.3,599.3 336.5,600.2C340.6,601.1 347.5,602.3 350.3,603.2C353.1,604 353.6,604.3 353.3,605.1C353,606 348.8,607.1 348.3,608.1C347.9,609.1 348.3,610.1 350.3,611.1C352.3,612.1 357.9,613.1 360.2,614.1C362.5,615 366.2,615.9 364.2,617C362.2,618.2 354.3,619.8 348.3,621C342.4,622.1 332.8,623 328.5,624C324.3,625 321.6,625.9 322.6,626.9C323.6,627.9 329.5,628.9 334.5,629.9C339.4,630.9 348.7,632 352.3,632.9C355.9,633.7 356.9,634 356.3,634.9C355.6,635.7 350,636.8 348.3,637.8C346.7,638.8 348,639.6 346.4,640.8C344.7,641.9 341.4,643.4 338.4,644.8C335.5,646.1 331.8,647.4 328.5,648.7C325.2,650 321.6,651.4 318.6,652.7C315.7,654 312.2,655.5 310.7,656.6C309.2,657.8 308.1,658.4 309.7,659.6C311.4,660.8 316.8,662.2 320.6,663.6C324.4,664.9 330,666.3 332.5,667.5C335,668.7 337.1,669.7 335.5,670.9C333.8,672 327.1,673.4 322.6,674.5C318.1,675.5 312.7,676.4 308.7,677.4C304.8,678.4 302,679.4 298.8,680.4C295.7,681.4 291.6,682.4 289.9,683.4C288.2,684.4 288.8,685.8 288.5,686.3L287.7,686.3 L287.7,515.8 Z" fill="#cccccc"/>
<path d="M288.5,703.9C289.6,704.4 290.9,705.8 294.9,706.8C298.9,707.8 306.8,708.8 312.7,709.8C318.6,710.8 325.9,711.6 330.5,712.8C335.1,713.9 338.4,715.4 340.4,716.7C342.4,718.1 343.7,719.4 342.4,720.7C341.1,722 335,723.5 332.5,724.7C330,725.8 326.9,726.6 327.6,727.6C328.2,728.6 332.7,729.8 336.5,730.6C340.3,731.4 345.4,731.9 350.3,732.6C355.3,733.2 362.4,733.7 366.2,734.6C370,735.4 373.8,736.5 373.1,737.5C372.4,738.5 366.3,739.5 362.2,740.5C358.1,741.5 351.3,742.5 348.3,743.5C345.4,744.5 344.1,745.3 344.4,746.4C344.7,747.6 348.8,749.1 350.3,750.4C351.8,751.7 352,753 353.3,754.4C354.6,755.7 355.9,756.8 358.2,758.3C360.6,759.8 367.5,761.8 367.2,763.3C366.8,764.8 358.4,766.2 356.3,767.2C354.1,768.2 352.6,768.4 354.3,769.2C355.9,770 361.9,771.2 366.2,772.2C370.5,773.2 377.1,774.2 380,775.1C383,776.1 382.7,777.1 384,778.1C385.3,779.1 386.5,780.2 388,781.1C389.4,782 394.6,782.5 392.9,783.5C391.3,784.5 383.5,785.8 378,787C372.6,788.3 363.4,790 360.2,791C357.1,792 356.9,792 359.2,793C361.5,794 369.8,795.8 374.1,796.9C378.4,798.1 383,798.7 385,799.9C387,801.1 385.8,802.7 386,803.9C386.1,805 387.3,805.8 386,806.8C384.7,807.8 379.5,808.6 378,809.8C376.6,811 377.2,812.4 377.1,813.8C376.9,815.1 376.7,816.4 377.1,817.7C377.4,819 377.6,820.2 379,821.7C380.5,823.2 385.8,825.1 386,826.6C386.1,828.1 380,829.3 380,830.6C380,831.9 383.5,833.2 386,834.6C388.4,835.9 391.9,837.2 394.9,838.5C397.9,839.8 404.6,841.2 403.8,842.5C403,843.8 393.9,845.1 389.9,846.4C386,847.8 382.3,849.1 380,850.4C377.7,851.7 374.4,853 376.1,854.4C377.7,855.7 385.6,857 389.9,858.3C394.2,859.6 401.2,861.1 401.8,862.3C402.5,863.4 396.2,864.3 393.9,865.2C391.6,866.2 388.9,866.3 388,868.2C387,870.2 388,875.5 388,876.9L287.7,876.9 L287.7,703.9 Z" fill="#808080"/>
<path d="M359.2,515.8C359.2,517.2 359.1,522.2 359.2,524C359.4,525.7 359.1,525.5 360.2,526.3C361.4,527.2 364.4,527.8 366.2,528.9C368,530 372.4,531.6 371.1,532.9C369.8,534.2 362.4,535.7 358.2,536.8C354.1,538 347.4,538.8 346.4,539.8C345.4,540.8 349.8,541.8 352.3,542.8C354.8,543.8 361.1,544.6 361.2,545.7C361.4,546.9 354.5,548.5 353.3,549.7C352.1,550.9 353.5,551.7 354.3,552.7C355.1,553.7 358.7,554.7 358.2,555.6C357.8,556.6 352.6,557.5 351.3,558.6C350,559.8 350.3,561.3 350.3,562.6C350.3,563.9 350.7,565 351.3,566.5C352,568 353.3,570 354.3,571.5C355.3,573 355.6,574.3 357.3,575.4C358.9,576.6 362.4,577.1 364.2,578.4C366,579.7 367,581.7 368.1,583.4C369.3,585 374.4,586.8 371.1,588.3C367.8,589.8 355.4,591.1 348.3,592.3C341.3,593.4 332.3,594.4 328.5,595.2C324.7,596.1 324.3,596.8 325.6,597.6C326.9,598.4 332.3,599.3 336.5,600.2C340.6,601.1 347.5,602.3 350.3,603.2C353.1,604 353.6,604.3 353.3,605.1C353,606 348.8,607.1 348.3,608.1C347.9,609.1 348.3,610.1 350.3,611.1C352.3,612.1 357.9,613.1 360.2,614.1C362.5,615 366.2,615.9 364.2,617C362.2,618.2 354.3,619.8 348.3,621C342.4,622.1 332.8,623 328.5,624C324.3,625 321.6,625.9 322.6,626.9C323.6,627.9 329.5,628.9 334.5,629.9C339.4,630.9 348.7,632 352.3,632.9C355.9,633.7 356.9,634 356.3,634.9C355.6,635.7 350,636.8 348.3,637.8C346.7,638.8 348,639.6 346.4,640.8C344.7,641.9 341.4,643.4 338.4,644.8C335.5,646.1 331.8,647.4 328.5,648.7C325.2,650 321.6,651.4 318.6,652.7C315.7,654 312.2,655.5 310.7,656.6C309.2,657.8 308.1,658.4 309.7,659.6C311.4,660.8 316.8,662.2 320.6,663.6C324.4,664.9 330,666.3 332.5,667.5C335,668.7 337.1,669.7 335.5,670.9C333.8,672 327.1,673.4 322.6,674.5C318.1,675.5 312.7,676.4 308.7,677.4C304.8,678.4 302,679.4 298.8,680.4C295.7,681.4 291.6,682.4 289.9,683.4C288.2,684.4 288.8,685.8 288.5,686.3 L287.7,686.3 L287.7,703.9L288.5,703.9C289.6,704.4 290.9,705.8 294.9,706.8C298.9,707.8 306.8,708.8 312.7,709.8C318.6,710.8 325.9,711.6 330.5,712.8C335.1,713.9 338.4,715.4 340.4,716.7C342.4,718.1 343.7,719.4 342.4,720.7C341.1,722 335,723.5 332.5,724.7C330,725.8 326.9,726.6 327.6,727.6C328.2,728.6 332.7,729.8 336.5,730.6C340.3,731.4 345.4,731.9 350.3,732.6C355.3,733.2 362.4,733.7 366.2,734.6C370,735.4 373.8,736.5 373.1,737.5C372.4,738.5 366.3,739.5 362.2,740.5C358.1,741.5 351.3,742.5 348.3,743.5C345.4,744.5 344.1,745.3 344.4,746.4C344.7,747.6 348.8,749.1 350.3,750.4C351.8,751.7 352,753 353.3,754.4C354.6,755.7 355.9,756.8 358.2,758.3C360.6,759.8 367.5,761.8 367.2,763.3C366.8,764.8 358.4,766.2 356.3,767.2C354.1,768.2 352.6,768.4 354.3,769.2C355.9,770 361.9,771.2 366.2,772.2C370.5,773.2 377.1,774.2 380,775.1C383,776.1 382.7,777.1 384,778.1C385.3,779.1 386.5,780.2 388,781.1C389.4,782 394.6,782.5 392.9,783.5C391.3,784.5 383.5,785.8 378,787C372.6,788.3 363.4,790 360.2,791C357.1,792 356.9,792 359.2,793C361.5,794 369.8,795.8 374.1,796.9C378.4,798.1 383,798.7 385,799.9C387,801.1 385.8,802.7 386,803.9C386.1,805 387.3,805.8 386,806.8C384.7,807.8 379.5,808.6 378,809.8C376.6,811 377.2,812.4 377.1,813.8C376.9,815.1 376.7,816.4 377.1,817.7C377.4,819 377.6,820.2 379,821.7C380.5,823.2 385.8,825.1 386,826.6C386.1,828.1 380,829.3 380,830.6C380,831.9 383.5,833.2 386,834.6C388.4,835.9 391.9,837.2 394.9,838.5C397.9,839.8 404.6,841.2 403.8,842.5C403,843.8 393.9,845.1 389.9,846.4C386,847.8 382.3,849.1 380,850.4C377.7,851.7 374.4,853 376.1,854.4C377.7,855.7 385.6,857 389.9,858.3C394.2,859.6 401.2,861.1 401.8,862.3C402.5,863.4 396.2,864.3 393.9,865.2C391.6,866.2 388.9,866.3 388,868.2C387,870.2 388,875.5 388,876.9" fill="none" stroke="#000" stroke-width="3.5" stroke-linejoin="round"/>
</g>
<line x1="115.6" y1="696.3" x2="287.7" y2="696.3" stroke="#000" stroke-width="3.3" stroke-dasharray="12.9 5.6"/>
<line x1="287.7" y1="696.3" x2="459.8" y2="696.3" stroke="#000" stroke-width="3.3" stroke-dasharray="12.9 5.6"/>
<line x1="115.6" y1="525.8" x2="124.1" y2="525.8" stroke="#000" stroke-width="2.4"/>
<line x1="115.6" y1="611.1" x2="124.1" y2="611.1" stroke="#000" stroke-width="2.4"/>
<line x1="115.6" y1="696.3" x2="124.1" y2="696.3" stroke="#000" stroke-width="2.4"/>
<line x1="115.6" y1="781.6" x2="124.1" y2="781.6" stroke="#000" stroke-width="2.4"/>
<line x1="115.6" y1="866.9" x2="124.1" y2="866.9" stroke="#000" stroke-width="2.4"/>
<rect x="115.6" y="525.8" width="344.2" height="341.1" fill="none" stroke="#000" stroke-width="2.7"/>
<line x1="287.7" y1="525.8" x2="287.7" y2="866.9" stroke="#000" stroke-width="2.7"/>
<text x="104.1" y="537.6" text-anchor="end" font-size="30.5" letter-spacing="0.6">2</text>
<path d="M97.6,622.7L94.9,622.7L94.9,605.6Q93.9,606.5 92.3,607.4Q90.8,608.4 89.5,608.8L89.5,606.2Q91.8,605.2 93.5,603.7Q95.1,602.2 95.8,600.8L97.6,600.8Z" fill="#000"/>
<text x="104.1" y="708.1" text-anchor="end" font-size="30.5" letter-spacing="0.6">0</text>
<path d="M96.8,793.2L94.1,793.2L94.1,776.1Q93.1,777.1 91.5,778Q90,778.9 88.7,779.4L88.7,776.8Q91,775.7 92.7,774.2Q94.3,772.7 95,771.3L96.8,771.3Z" fill="#000"/>
<text x="85.6" y="793.4" text-anchor="end" font-size="30.5">−</text>
<text x="104.1" y="878.7" text-anchor="end" font-size="30.5" letter-spacing="0.6">−2</text>
<text x="202.1" y="904.2" text-anchor="middle" font-size="30.5" letter-spacing="1.0">DOS</text>
<text x="374.2" y="904.2" text-anchor="middle" font-size="30.5" letter-spacing="1.0">DOS</text>
<text x="202.3" y="504.4" text-anchor="middle" font-size="30.5" letter-spacing="1.05"><tspan font-style="italic">c</tspan>-InGeTe<tspan font-size="20.5" dy="8.2">3</tspan></text>
<text x="374.4" y="504.4" text-anchor="middle" font-size="30.5" letter-spacing="1.05"><tspan font-style="italic">a</tspan>-InGeTe<tspan font-size="20.5" dy="8.2">3</tspan></text>
<text x="1" y="497.7" font-size="32.5" letter-spacing="1.4">(d)</text>
<text transform="translate(41.1,776.8) rotate(-90)" font-size="30.5" letter-spacing="0.3"><tspan font-style="italic">E</tspan> – <tspan font-style="italic">E</tspan><tspan font-size="22" dy="8.6">F</tspan></text>
<text transform="translate(41.1,676.5) rotate(-90)" font-size="30.5">(eV)</text>
<clipPath id="k13"><rect x="604.4" y="523.1" width="172.1" height="341.4"/></clipPath>
<g clip-path="url(#k13)">
<path d="M632.7,513.1C632.7,514.6 632.8,520.2 632.7,522C632.5,523.8 632.3,523.1 631.7,523.9C631,524.8 629.4,525.9 628.7,526.9C628.1,527.9 628.1,528.7 627.7,529.9C627.4,531 627.7,532.7 626.7,533.8C625.7,535 623.9,535.8 621.8,536.8C619.6,537.8 615.5,538.8 613.9,539.8C612.2,540.8 611.2,541.6 611.9,542.8C612.5,543.9 615.5,545.4 617.8,546.7C620.1,548 622.8,549.4 625.7,550.7C628.7,552 633.7,553.5 635.6,554.6C637.6,555.8 637.5,556.6 637.6,557.6C637.8,558.6 636.1,559.3 636.6,560.6C637.1,561.9 641.4,564 640.6,565.5C639.8,567 635,568.2 631.7,569.5C628.4,570.8 620.8,572.1 620.8,573.4C620.8,574.8 628.4,576.2 631.7,577.4C635,578.7 640.9,579.8 640.6,581C640.3,582.1 633.3,583.1 629.7,584.3C626.1,585.6 618.2,587 618.8,588.3C619.5,589.6 628.7,591 633.7,592.3C638.6,593.5 647.5,594.5 648.5,595.6C649.5,596.7 642.7,597.7 639.6,598.8C636.5,599.9 633,600.9 629.7,602.2C626.4,603.4 622.3,604.9 619.8,606.1C617.3,607.3 614.2,608.3 614.9,609.5C615.5,610.6 619,612 623.8,613C628.5,614.1 636.6,615 643.6,616C650.5,617 659.2,617.9 665.3,619C671.5,620.1 680.5,621.4 680.2,622.6C679.9,623.7 670.1,624.9 663.4,625.9C656.6,627 646.2,627.9 639.6,628.9C633,629.9 626.7,630.9 623.8,631.9C620.8,632.9 621.8,633.8 621.8,634.8C621.8,635.8 624.8,636.8 623.8,637.8C622.8,638.8 618.8,639.8 615.8,640.8C612.9,641.8 607.8,642.6 605.9,643.7C604.1,644.9 604.6,646.2 605,647.7C605.3,649.2 606.8,651.2 607.9,652.7C609.1,654.1 610.9,655.3 611.9,656.6C612.9,657.9 613.9,659.4 613.9,660.6C613.9,661.7 611.7,662.5 611.9,663.5C612,664.6 615,665.8 614.9,666.9C614.7,668.1 612.5,669.2 610.9,670.5C609.2,671.7 605.9,673.8 605,674.4L604.4,674.4 L604.4,513.1 Z" fill="#cccccc"/>
<path d="M605,707.8C605.8,708.3 607.9,709.8 609.9,710.8C611.9,711.8 615.3,712.8 616.8,713.7C618.3,714.7 618,715.6 618.8,716.7C619.6,717.9 619.3,719.5 621.8,720.7C624.3,721.8 629,722.7 633.7,723.6C638.3,724.6 644.6,725.6 649.5,726.6C654.5,727.6 659.1,728.6 663.4,729.6C667.7,730.6 671.3,731.6 675.2,732.6C679.2,733.5 684.7,734.4 687.1,735.5C689.6,736.7 690.1,738.3 690.1,739.5C690.1,740.6 686.6,741.3 687.1,742.5C687.6,743.6 694.4,745.1 693.1,746.4C691.7,747.7 683.2,749.1 679.2,750.4C675.2,751.7 671,753.2 669.3,754.3C667.7,755.5 666.7,756.2 669.3,757.3C671.9,758.5 681,760.1 685.1,761.3C689.3,762.4 694.4,763.1 694.1,764.2C693.7,765.4 686.6,766.9 683.2,768.2C679.7,769.5 675.7,771 673.3,772.2C670.8,773.3 667.7,774.1 668.3,775.1C669,776.1 675.1,777.3 677.2,778.1C679.4,778.9 682.5,779.3 681.2,780.1C679.9,780.9 673.3,781.9 669.3,783C665.3,784.2 659.7,786 657.4,787C655.1,788 654.1,788 655.4,789C656.8,790 662.4,791.8 665.3,793C668.3,794.1 673.3,794.9 673.3,795.9C673.3,796.9 667.3,797.9 665.3,798.9C663.4,799.9 660.1,800.9 661.4,801.9C662.7,802.9 670,803.8 673.3,804.8C676.6,805.8 679.9,806.8 681.2,807.8C682.5,808.8 679.2,809.8 681.2,810.8C683.2,811.8 690.4,813 693.1,813.7C695.7,814.5 699.3,814.5 697,815.1C694.7,815.8 687.8,816.8 679.2,817.7C670.6,818.6 653.6,819.8 645.5,820.7C637.5,821.6 630.7,822.2 630.7,823C630.7,823.9 639.1,824.7 645.5,825.6C652,826.5 664.4,827.8 669.3,828.6C674.3,829.4 676.9,829.5 675.2,830.2C673.6,830.9 666,832 659.4,833C652.8,833.9 640.8,835.1 635.6,836.1C630.5,837.1 626.4,837.9 628.7,838.9C631,839.9 641.1,841 649.5,842.1C657.9,843.1 670.5,844.3 679.2,845.4C688,846.5 700.3,847.6 702,848.8C703.6,849.9 692.2,851.2 689.1,852.4C686,853.5 683.5,854.8 683.2,855.9C682.8,857.1 684.8,858.2 687.1,859.3C689.4,860.4 693.7,861.5 697,862.7C700.3,863.8 705.3,864.2 706.9,866.2C708.6,868.2 706.9,873.1 706.9,874.5L604.4,874.5 L604.4,707.8 Z" fill="#808080"/>
<path d="M632.7,513.1C632.7,514.6 632.8,520.2 632.7,522C632.5,523.8 632.3,523.1 631.7,523.9C631,524.8 629.4,525.9 628.7,526.9C628.1,527.9 628.1,528.7 627.7,529.9C627.4,531 627.7,532.7 626.7,533.8C625.7,535 623.9,535.8 621.8,536.8C619.6,537.8 615.5,538.8 613.9,539.8C612.2,540.8 611.2,541.6 611.9,542.8C612.5,543.9 615.5,545.4 617.8,546.7C620.1,548 622.8,549.4 625.7,550.7C628.7,552 633.7,553.5 635.6,554.6C637.6,555.8 637.5,556.6 637.6,557.6C637.8,558.6 636.1,559.3 636.6,560.6C637.1,561.9 641.4,564 640.6,565.5C639.8,567 635,568.2 631.7,569.5C628.4,570.8 620.8,572.1 620.8,573.4C620.8,574.8 628.4,576.2 631.7,577.4C635,578.7 640.9,579.8 640.6,581C640.3,582.1 633.3,583.1 629.7,584.3C626.1,585.6 618.2,587 618.8,588.3C619.5,589.6 628.7,591 633.7,592.3C638.6,593.5 647.5,594.5 648.5,595.6C649.5,596.7 642.7,597.7 639.6,598.8C636.5,599.9 633,600.9 629.7,602.2C626.4,603.4 622.3,604.9 619.8,606.1C617.3,607.3 614.2,608.3 614.9,609.5C615.5,610.6 619,612 623.8,613C628.5,614.1 636.6,615 643.6,616C650.5,617 659.2,617.9 665.3,619C671.5,620.1 680.5,621.4 680.2,622.6C679.9,623.7 670.1,624.9 663.4,625.9C656.6,627 646.2,627.9 639.6,628.9C633,629.9 626.7,630.9 623.8,631.9C620.8,632.9 621.8,633.8 621.8,634.8C621.8,635.8 624.8,636.8 623.8,637.8C622.8,638.8 618.8,639.8 615.8,640.8C612.9,641.8 607.8,642.6 605.9,643.7C604.1,644.9 604.6,646.2 605,647.7C605.3,649.2 606.8,651.2 607.9,652.7C609.1,654.1 610.9,655.3 611.9,656.6C612.9,657.9 613.9,659.4 613.9,660.6C613.9,661.7 611.7,662.5 611.9,663.5C612,664.6 615,665.8 614.9,666.9C614.7,668.1 612.5,669.2 610.9,670.5C609.2,671.7 605.9,673.8 605,674.4 L604.4,674.4 L604.4,707.8L605,707.8C605.8,708.3 607.9,709.8 609.9,710.8C611.9,711.8 615.3,712.8 616.8,713.7C618.3,714.7 618,715.6 618.8,716.7C619.6,717.9 619.3,719.5 621.8,720.7C624.3,721.8 629,722.7 633.7,723.6C638.3,724.6 644.6,725.6 649.5,726.6C654.5,727.6 659.1,728.6 663.4,729.6C667.7,730.6 671.3,731.6 675.2,732.6C679.2,733.5 684.7,734.4 687.1,735.5C689.6,736.7 690.1,738.3 690.1,739.5C690.1,740.6 686.6,741.3 687.1,742.5C687.6,743.6 694.4,745.1 693.1,746.4C691.7,747.7 683.2,749.1 679.2,750.4C675.2,751.7 671,753.2 669.3,754.3C667.7,755.5 666.7,756.2 669.3,757.3C671.9,758.5 681,760.1 685.1,761.3C689.3,762.4 694.4,763.1 694.1,764.2C693.7,765.4 686.6,766.9 683.2,768.2C679.7,769.5 675.7,771 673.3,772.2C670.8,773.3 667.7,774.1 668.3,775.1C669,776.1 675.1,777.3 677.2,778.1C679.4,778.9 682.5,779.3 681.2,780.1C679.9,780.9 673.3,781.9 669.3,783C665.3,784.2 659.7,786 657.4,787C655.1,788 654.1,788 655.4,789C656.8,790 662.4,791.8 665.3,793C668.3,794.1 673.3,794.9 673.3,795.9C673.3,796.9 667.3,797.9 665.3,798.9C663.4,799.9 660.1,800.9 661.4,801.9C662.7,802.9 670,803.8 673.3,804.8C676.6,805.8 679.9,806.8 681.2,807.8C682.5,808.8 679.2,809.8 681.2,810.8C683.2,811.8 690.4,813 693.1,813.7C695.7,814.5 699.3,814.5 697,815.1C694.7,815.8 687.8,816.8 679.2,817.7C670.6,818.6 653.6,819.8 645.5,820.7C637.5,821.6 630.7,822.2 630.7,823C630.7,823.9 639.1,824.7 645.5,825.6C652,826.5 664.4,827.8 669.3,828.6C674.3,829.4 676.9,829.5 675.2,830.2C673.6,830.9 666,832 659.4,833C652.8,833.9 640.8,835.1 635.6,836.1C630.5,837.1 626.4,837.9 628.7,838.9C631,839.9 641.1,841 649.5,842.1C657.9,843.1 670.5,844.3 679.2,845.4C688,846.5 700.3,847.6 702,848.8C703.6,849.9 692.2,851.2 689.1,852.4C686,853.5 683.5,854.8 683.2,855.9C682.8,857.1 684.8,858.2 687.1,859.3C689.4,860.4 693.7,861.5 697,862.7C700.3,863.8 705.3,864.2 706.9,866.2C708.6,868.2 706.9,873.1 706.9,874.5" fill="none" stroke="#000" stroke-width="3.5" stroke-linejoin="round"/>
</g>
<clipPath id="k14"><rect x="776.5" y="523.1" width="172" height="341.4"/></clipPath>
<g clip-path="url(#k14)">
<path d="M844.3,513.1C844.3,514.6 844.4,520.2 844.3,522C844.1,523.8 844.1,523.1 843.3,523.9C842.5,524.8 839,525.9 839.3,526.9C839.7,527.9 842.6,528.7 845.3,529.9C847.9,531 853.2,532.5 855.2,533.8C857.1,535.2 857.6,536.5 857.1,537.8C856.7,539.1 854.3,540.4 852.2,541.8C850.1,543.1 845.8,544.6 844.3,545.7C842.8,546.9 841.5,547.7 843.3,548.7C845.1,549.7 851.7,550.7 855.2,551.7C858.6,552.7 864.1,553.6 864.1,554.6C864.1,555.6 857.8,556.6 855.2,557.6C852.5,558.6 848.2,559.6 848.2,560.6C848.2,561.6 853.2,562.6 855.2,563.5C857.1,564.5 860.4,565.5 860.1,566.5C859.8,567.5 855.5,568.3 853.2,569.5C850.9,570.6 847.4,572.3 846.3,573.4C845.1,574.6 846.4,575.3 846.3,576.4C846.1,577.6 844.1,579.1 845.3,580.4C846.4,581.7 851.2,583 853.2,584.3C855.2,585.7 856.2,586.8 857.1,588.3C858.1,589.8 860.1,591.9 859.1,593.2C858.1,594.6 854.8,595.2 851.2,596.2C847.6,597.2 841,598.2 837.3,599.2C833.7,600.2 830.7,601.2 829.4,602.2C828.1,603.1 827.8,604.1 829.4,605.1C831.1,606.1 837.2,607.1 839.3,608.1C841.5,609.1 842.6,610.1 842.3,611.1C842,612.1 837.8,613 837.3,614C836.9,615 839.3,616 839.3,617C839.3,618 839.7,619 837.3,620C835,621 830.1,621.8 825.5,623C820.8,624.1 813.4,625.6 809.6,626.9C805.8,628.2 801,629.6 802.7,630.9C804.3,632.2 815.6,633.7 819.5,634.8C823.5,636 826.1,636.8 826.5,637.8C826.8,638.8 822.7,639.8 821.5,640.8C820.3,641.8 821.2,642.8 819.5,643.7C817.9,644.7 815.2,645.7 811.6,646.7C808,647.7 800.7,648.7 797.7,649.7C794.8,650.7 794.8,651.7 793.8,652.7C792.8,653.6 792.1,654.6 791.8,655.6C791.5,656.6 792.1,657.6 791.8,658.6C791.5,659.6 791.8,660.6 789.8,661.6C787.8,662.6 782.1,663.5 779.9,664.5C777.8,665.5 777.3,666.2 777,667.5C776.6,668.8 776.8,671 777.9,672.5C779.1,673.9 782.1,675.3 783.9,676.4C785.7,677.6 787.5,678.2 788.8,679.4C790.2,680.5 792.6,682.2 791.8,683.3C791,684.5 786.2,685.3 783.9,686.3C781.6,687.3 779.1,688.3 777.9,689.3C776.8,690.3 777.1,691.8 777,692.3L776.5,692.3 L776.5,513.1 Z" fill="#cccccc"/>
<path d="M777,693.9C777,694.1 775.5,694.3 777,694.9C778.4,695.6 781.7,696.9 785.9,697.9C790,698.9 796.8,700 801.7,700.9C806.7,701.7 812.8,702.2 815.6,702.9C818.4,703.5 818.7,704 818.5,704.8C818.4,705.7 814.9,706.6 814.6,707.8C814.2,709 816.1,710.4 816.6,711.8C817,713.1 816.1,714.6 817.5,715.7C819,716.9 821.5,717.7 825.5,718.7C829.4,719.7 837,720.7 841.3,721.7C845.6,722.7 851.9,723.6 851.2,724.6C850.5,725.6 841.1,726.4 837.3,727.6C833.6,728.8 827.8,730.2 828.4,731.6C829.1,732.9 836.9,734.2 841.3,735.5C845.8,736.8 852,738.2 855.2,739.5C858.3,740.8 860.8,742.3 860.1,743.4C859.5,744.6 853.5,745.4 851.2,746.4C848.9,747.4 845.3,748.4 846.3,749.4C847.2,750.4 853.7,751.4 857.1,752.4C860.6,753.3 867,754.2 867,755.3C867,756.4 859.5,757.7 857.1,758.9C854.8,760 851.5,761 853.2,762.3C854.8,763.5 863.6,765 867,766.2C870.5,767.4 874.3,768.4 874,769.6C873.7,770.7 867.4,772.1 865.1,773.1C862.8,774.2 859.1,775 860.1,776.1C861.1,777.3 868.9,778.9 871,780.1C873.2,781.2 873.3,781.9 873,783C872.7,784.2 870.3,785.7 869,787C867.7,788.3 868,789.7 865.1,791C862.1,792.3 854.2,793.7 851.2,794.9C848.2,796.2 846.3,797.3 847.2,798.5C848.2,799.7 854,800.6 857.1,801.9C860.3,803.1 865.7,804.5 866.1,805.8C866.4,807.1 860.3,808.6 859.1,809.8C858,810.9 856.2,811.8 859.1,812.8C862.1,813.7 871.8,814.7 877,815.7C882.1,816.7 890.2,817.5 889.8,818.7C889.5,819.8 879.4,821.3 875,822.7C870.5,824 864.1,825.3 863.1,826.6C862.1,827.9 867.7,829.5 869,830.6C870.3,831.6 872,832.1 871,833C870,833.8 864.6,834.4 863.1,835.5C861.6,836.6 862.1,838.2 862.1,839.5C862.1,840.8 861.9,842.1 863.1,843.4C864.2,844.8 867,846.1 869,847.4C871,848.7 873,850 875,851.4C877,852.7 879.3,854.2 880.9,855.3C882.6,856.4 886.5,857 884.9,857.9C883.2,858.8 875.6,859.8 871,860.7C866.4,861.6 861.1,862.3 857.1,863.2C853.2,864.2 848.9,864.3 847.2,866.2C845.6,868.1 847.2,873.1 847.2,874.5L776.5,874.5 L776.5,693.9 Z" fill="#808080"/>
<path d="M844.3,513.1C844.3,514.6 844.4,520.2 844.3,522C844.1,523.8 844.1,523.1 843.3,523.9C842.5,524.8 839,525.9 839.3,526.9C839.7,527.9 842.6,528.7 845.3,529.9C847.9,531 853.2,532.5 855.2,533.8C857.1,535.2 857.6,536.5 857.1,537.8C856.7,539.1 854.3,540.4 852.2,541.8C850.1,543.1 845.8,544.6 844.3,545.7C842.8,546.9 841.5,547.7 843.3,548.7C845.1,549.7 851.7,550.7 855.2,551.7C858.6,552.7 864.1,553.6 864.1,554.6C864.1,555.6 857.8,556.6 855.2,557.6C852.5,558.6 848.2,559.6 848.2,560.6C848.2,561.6 853.2,562.6 855.2,563.5C857.1,564.5 860.4,565.5 860.1,566.5C859.8,567.5 855.5,568.3 853.2,569.5C850.9,570.6 847.4,572.3 846.3,573.4C845.1,574.6 846.4,575.3 846.3,576.4C846.1,577.6 844.1,579.1 845.3,580.4C846.4,581.7 851.2,583 853.2,584.3C855.2,585.7 856.2,586.8 857.1,588.3C858.1,589.8 860.1,591.9 859.1,593.2C858.1,594.6 854.8,595.2 851.2,596.2C847.6,597.2 841,598.2 837.3,599.2C833.7,600.2 830.7,601.2 829.4,602.2C828.1,603.1 827.8,604.1 829.4,605.1C831.1,606.1 837.2,607.1 839.3,608.1C841.5,609.1 842.6,610.1 842.3,611.1C842,612.1 837.8,613 837.3,614C836.9,615 839.3,616 839.3,617C839.3,618 839.7,619 837.3,620C835,621 830.1,621.8 825.5,623C820.8,624.1 813.4,625.6 809.6,626.9C805.8,628.2 801,629.6 802.7,630.9C804.3,632.2 815.6,633.7 819.5,634.8C823.5,636 826.1,636.8 826.5,637.8C826.8,638.8 822.7,639.8 821.5,640.8C820.3,641.8 821.2,642.8 819.5,643.7C817.9,644.7 815.2,645.7 811.6,646.7C808,647.7 800.7,648.7 797.7,649.7C794.8,650.7 794.8,651.7 793.8,652.7C792.8,653.6 792.1,654.6 791.8,655.6C791.5,656.6 792.1,657.6 791.8,658.6C791.5,659.6 791.8,660.6 789.8,661.6C787.8,662.6 782.1,663.5 779.9,664.5C777.8,665.5 777.3,666.2 777,667.5C776.6,668.8 776.8,671 777.9,672.5C779.1,673.9 782.1,675.3 783.9,676.4C785.7,677.6 787.5,678.2 788.8,679.4C790.2,680.5 792.6,682.2 791.8,683.3C791,684.5 786.2,685.3 783.9,686.3C781.6,687.3 779.1,688.3 777.9,689.3C776.8,690.3 777.1,691.8 777,692.3 L776.5,692.3 L776.5,693.9L777,693.9C777,694.1 775.5,694.3 777,694.9C778.4,695.6 781.7,696.9 785.9,697.9C790,698.9 796.8,700 801.7,700.9C806.7,701.7 812.8,702.2 815.6,702.9C818.4,703.5 818.7,704 818.5,704.8C818.4,705.7 814.9,706.6 814.6,707.8C814.2,709 816.1,710.4 816.6,711.8C817,713.1 816.1,714.6 817.5,715.7C819,716.9 821.5,717.7 825.5,718.7C829.4,719.7 837,720.7 841.3,721.7C845.6,722.7 851.9,723.6 851.2,724.6C850.5,725.6 841.1,726.4 837.3,727.6C833.6,728.8 827.8,730.2 828.4,731.6C829.1,732.9 836.9,734.2 841.3,735.5C845.8,736.8 852,738.2 855.2,739.5C858.3,740.8 860.8,742.3 860.1,743.4C859.5,744.6 853.5,745.4 851.2,746.4C848.9,747.4 845.3,748.4 846.3,749.4C847.2,750.4 853.7,751.4 857.1,752.4C860.6,753.3 867,754.2 867,755.3C867,756.4 859.5,757.7 857.1,758.9C854.8,760 851.5,761 853.2,762.3C854.8,763.5 863.6,765 867,766.2C870.5,767.4 874.3,768.4 874,769.6C873.7,770.7 867.4,772.1 865.1,773.1C862.8,774.2 859.1,775 860.1,776.1C861.1,777.3 868.9,778.9 871,780.1C873.2,781.2 873.3,781.9 873,783C872.7,784.2 870.3,785.7 869,787C867.7,788.3 868,789.7 865.1,791C862.1,792.3 854.2,793.7 851.2,794.9C848.2,796.2 846.3,797.3 847.2,798.5C848.2,799.7 854,800.6 857.1,801.9C860.3,803.1 865.7,804.5 866.1,805.8C866.4,807.1 860.3,808.6 859.1,809.8C858,810.9 856.2,811.8 859.1,812.8C862.1,813.7 871.8,814.7 877,815.7C882.1,816.7 890.2,817.5 889.8,818.7C889.5,819.8 879.4,821.3 875,822.7C870.5,824 864.1,825.3 863.1,826.6C862.1,827.9 867.7,829.5 869,830.6C870.3,831.6 872,832.1 871,833C870,833.8 864.6,834.4 863.1,835.5C861.6,836.6 862.1,838.2 862.1,839.5C862.1,840.8 861.9,842.1 863.1,843.4C864.2,844.8 867,846.1 869,847.4C871,848.7 873,850 875,851.4C877,852.7 879.3,854.2 880.9,855.3C882.6,856.4 886.5,857 884.9,857.9C883.2,858.8 875.6,859.8 871,860.7C866.4,861.6 861.1,862.3 857.1,863.2C853.2,864.2 848.9,864.3 847.2,866.2C845.6,868.1 847.2,873.1 847.2,874.5" fill="none" stroke="#000" stroke-width="3.5" stroke-linejoin="round"/>
</g>
<line x1="604.4" y1="693.8" x2="776.5" y2="693.8" stroke="#000" stroke-width="3.3" stroke-dasharray="12.9 5.6"/>
<line x1="776.5" y1="693.8" x2="948.5" y2="693.8" stroke="#000" stroke-width="3.3" stroke-dasharray="12.9 5.6"/>
<line x1="604.4" y1="523.1" x2="612.9" y2="523.1" stroke="#000" stroke-width="2.4"/>
<line x1="604.4" y1="608.5" x2="612.9" y2="608.5" stroke="#000" stroke-width="2.4"/>
<line x1="604.4" y1="693.8" x2="612.9" y2="693.8" stroke="#000" stroke-width="2.4"/>
<line x1="604.4" y1="779.1" x2="612.9" y2="779.1" stroke="#000" stroke-width="2.4"/>
<line x1="604.4" y1="864.5" x2="612.9" y2="864.5" stroke="#000" stroke-width="2.4"/>
<rect x="604.4" y="523.1" width="344.1" height="341.4" fill="none" stroke="#000" stroke-width="2.7"/>
<line x1="776.5" y1="523.1" x2="776.5" y2="864.5" stroke="#000" stroke-width="2.7"/>
<text x="592.9" y="534.9" text-anchor="end" font-size="30.5" letter-spacing="0.6">2</text>
<path d="M586.4,620.1L583.7,620.1L583.7,603Q582.7,603.9 581.1,604.8Q579.6,605.7 578.3,606.2L578.3,603.6Q580.6,602.6 582.3,601Q583.9,599.5 584.6,598.1L586.4,598.1Z" fill="#000"/>
<text x="592.9" y="705.6" text-anchor="end" font-size="30.5" letter-spacing="0.6">0</text>
<path d="M585.6,790.8L582.9,790.8L582.9,773.7Q581.9,774.6 580.3,775.5Q578.8,776.4 577.5,776.9L577.5,774.3Q579.8,773.3 581.5,771.7Q583.1,770.2 583.8,768.8L585.6,768.8Z" fill="#000"/>
<text x="574.4" y="790.9" text-anchor="end" font-size="30.5">−</text>
<text x="592.9" y="876.3" text-anchor="end" font-size="30.5" letter-spacing="0.6">−2</text>
<text x="690.9" y="901.8" text-anchor="middle" font-size="30.5" letter-spacing="1.0">DOS</text>
<text x="863" y="901.8" text-anchor="middle" font-size="30.5" letter-spacing="1.0">DOS</text>
<text x="691.1" y="501.7" text-anchor="middle" font-size="30.5" letter-spacing="1.05"><tspan font-style="italic">c</tspan>-InSiTe<tspan font-size="20.5" dy="8.2">3</tspan></text>
<text x="863.2" y="501.7" text-anchor="middle" font-size="30.5" letter-spacing="1.05"><tspan font-style="italic">a</tspan>-InSiTe<tspan font-size="20.5" dy="8.2">3</tspan></text>
<text x="495.1" y="497.7" font-size="32.5" letter-spacing="1.4">(e)</text>
<text transform="translate(529.9,774.3) rotate(-90)" font-size="30.5" letter-spacing="0.3"><tspan font-style="italic">E</tspan> – <tspan font-style="italic">E</tspan><tspan font-size="22" dy="8.6">F</tspan></text>
<text transform="translate(529.9,674) rotate(-90)" font-size="30.5">(eV)</text>
<clipPath id="k15"><rect x="1098.5" y="520.9" width="171.9" height="341.1"/></clipPath>
<g clip-path="url(#k15)">
<path d="M1159.3,510.9C1159.3,512.2 1159.7,517.2 1159.3,519C1159,520.7 1159,520.5 1157.4,521.3C1155.7,522.2 1151.3,523 1149.4,523.9C1147.6,524.8 1146,525.7 1146.5,526.9C1147,528 1151.3,529.7 1152.4,530.8C1153.6,532 1154.2,532.7 1153.4,533.8C1152.6,535 1149.3,536.6 1147.5,537.8C1145.7,538.9 1143.7,539.8 1142.5,540.7C1141.4,541.7 1141,542.6 1140.5,543.7C1140,544.9 1140,546.5 1139.5,547.7C1139,548.8 1138.1,549.7 1137.6,550.6C1137.1,551.6 1137.6,552.6 1136.6,553.6C1135.6,554.6 1132.6,555.8 1131.6,556.6C1130.6,557.4 1130,557.6 1130.6,558.6C1131.3,559.6 1134.4,561.2 1135.6,562.5C1136.7,563.8 1135.6,565.2 1137.6,566.5C1139.5,567.8 1145.2,569.3 1147.5,570.4C1149.8,571.6 1152.7,572.4 1151.4,573.4C1150.1,574.4 1143.8,575.4 1139.5,576.4C1135.3,577.4 1128.3,578.4 1125.7,579.4C1123,580.3 1121.7,580.9 1123.7,581.9C1125.7,582.9 1133.8,584.2 1137.6,585.3C1141.4,586.4 1147.1,587.5 1146.5,588.7C1145.8,589.8 1138.1,591.1 1133.6,592.2C1129.1,593.3 1123.7,594.2 1119.7,595.2C1115.8,596.2 1112.8,597 1109.8,598.2C1106.9,599.3 1103.4,600.8 1101.9,602.1C1100.4,603.4 1099.9,604.9 1100.9,606.1C1101.9,607.2 1105.7,608 1107.9,609.1C1110,610.1 1114.1,611.3 1113.8,612.4C1113.5,613.6 1108.2,614.7 1105.9,616C1103.6,617.2 1101.1,618.6 1099.9,620C1098.8,621.3 1099.1,623.3 1099,623.9L1098.5,623.9 L1098.5,510.9 Z" fill="#cccccc"/>
<path d="M1099,709.8C1099.4,710.4 1099.4,712.6 1101.9,713.7C1104.4,714.9 1109.5,715.7 1113.8,716.7C1118.1,717.7 1123.4,718.7 1127.7,719.7C1132,720.6 1135.6,721.6 1139.5,722.6C1143.5,723.6 1146.5,724.6 1151.4,725.6C1156.4,726.6 1163.3,727.6 1169.2,728.6C1175.2,729.6 1182.8,730.6 1187.1,731.5C1191.4,732.5 1195.7,733.2 1195,734.1C1194.3,735 1187.4,735.8 1183.1,736.9C1178.8,737.9 1171.9,739.2 1169.2,740.4C1166.6,741.7 1168.6,743.1 1167.3,744.4C1165.9,745.7 1163,747 1161.3,748.4C1159.7,749.7 1156,751 1157.4,752.3C1158.7,753.6 1165.3,754.8 1169.2,756.3C1173.2,757.8 1178.7,759.8 1181.1,761.2C1183.6,762.7 1185.1,763.9 1184.1,765.2C1183.1,766.5 1177.5,768 1175.2,769.2C1172.9,770.3 1170.6,771.1 1170.2,772.1C1169.9,773.1 1172.4,774.1 1173.2,775.1C1174,776.1 1174.5,776.9 1175.2,778.1C1175.8,779.2 1176.8,780.9 1177.2,782C1177.5,783.2 1179.1,784 1177.2,785C1175.2,786 1168.9,786.8 1165.3,788C1161.7,789.1 1158.2,790.6 1155.4,791.9C1152.6,793.3 1148.1,794.6 1148.5,795.9C1148.8,797.2 1154.2,798.1 1157.4,799.9C1160.5,801.6 1166.9,804.5 1167.3,806.2C1167.6,807.8 1161,808.7 1159.3,809.8C1157.7,810.8 1156.9,811.7 1157.4,812.7C1157.9,813.7 1161.3,814.8 1162.3,815.7C1163.3,816.6 1164.5,817.1 1163.3,818.1C1162.2,819.1 1157.7,820.4 1155.4,821.6C1153.1,822.9 1150.8,824.3 1149.4,825.6C1148.1,826.9 1146.5,828.2 1147.5,829.6C1148.5,830.9 1152.4,832.2 1155.4,833.5C1158.4,834.8 1163,836.2 1165.3,837.5C1167.6,838.8 1168.6,840.3 1169.2,841.4C1169.9,842.6 1167.9,843.4 1169.2,844.4C1170.6,845.4 1174.9,846.4 1177.2,847.4C1179.5,848.4 1183.8,849.4 1183.1,850.3C1182.4,851.3 1176.2,852.4 1173.2,853.3C1170.2,854.2 1165.9,854.9 1165.3,855.7C1164.6,856.5 1167.6,857.5 1169.2,858.3C1170.9,859 1173.2,859.4 1175.2,860.2C1177.2,861.1 1180.1,861.3 1181.1,863.2C1182.1,865.2 1181.1,870.5 1181.1,872L1098.5,872 L1098.5,709.8 Z" fill="#808080"/>
<path d="M1159.3,510.9C1159.3,512.2 1159.7,517.2 1159.3,519C1159,520.7 1159,520.5 1157.4,521.3C1155.7,522.2 1151.3,523 1149.4,523.9C1147.6,524.8 1146,525.7 1146.5,526.9C1147,528 1151.3,529.7 1152.4,530.8C1153.6,532 1154.2,532.7 1153.4,533.8C1152.6,535 1149.3,536.6 1147.5,537.8C1145.7,538.9 1143.7,539.8 1142.5,540.7C1141.4,541.7 1141,542.6 1140.5,543.7C1140,544.9 1140,546.5 1139.5,547.7C1139,548.8 1138.1,549.7 1137.6,550.6C1137.1,551.6 1137.6,552.6 1136.6,553.6C1135.6,554.6 1132.6,555.8 1131.6,556.6C1130.6,557.4 1130,557.6 1130.6,558.6C1131.3,559.6 1134.4,561.2 1135.6,562.5C1136.7,563.8 1135.6,565.2 1137.6,566.5C1139.5,567.8 1145.2,569.3 1147.5,570.4C1149.8,571.6 1152.7,572.4 1151.4,573.4C1150.1,574.4 1143.8,575.4 1139.5,576.4C1135.3,577.4 1128.3,578.4 1125.7,579.4C1123,580.3 1121.7,580.9 1123.7,581.9C1125.7,582.9 1133.8,584.2 1137.6,585.3C1141.4,586.4 1147.1,587.5 1146.5,588.7C1145.8,589.8 1138.1,591.1 1133.6,592.2C1129.1,593.3 1123.7,594.2 1119.7,595.2C1115.8,596.2 1112.8,597 1109.8,598.2C1106.9,599.3 1103.4,600.8 1101.9,602.1C1100.4,603.4 1099.9,604.9 1100.9,606.1C1101.9,607.2 1105.7,608 1107.9,609.1C1110,610.1 1114.1,611.3 1113.8,612.4C1113.5,613.6 1108.2,614.7 1105.9,616C1103.6,617.2 1101.1,618.6 1099.9,620C1098.8,621.3 1099.1,623.3 1099,623.9 L1098.5,623.9 L1098.5,709.8L1099,709.8C1099.4,710.4 1099.4,712.6 1101.9,713.7C1104.4,714.9 1109.5,715.7 1113.8,716.7C1118.1,717.7 1123.4,718.7 1127.7,719.7C1132,720.6 1135.6,721.6 1139.5,722.6C1143.5,723.6 1146.5,724.6 1151.4,725.6C1156.4,726.6 1163.3,727.6 1169.2,728.6C1175.2,729.6 1182.8,730.6 1187.1,731.5C1191.4,732.5 1195.7,733.2 1195,734.1C1194.3,735 1187.4,735.8 1183.1,736.9C1178.8,737.9 1171.9,739.2 1169.2,740.4C1166.6,741.7 1168.6,743.1 1167.3,744.4C1165.9,745.7 1163,747 1161.3,748.4C1159.7,749.7 1156,751 1157.4,752.3C1158.7,753.6 1165.3,754.8 1169.2,756.3C1173.2,757.8 1178.7,759.8 1181.1,761.2C1183.6,762.7 1185.1,763.9 1184.1,765.2C1183.1,766.5 1177.5,768 1175.2,769.2C1172.9,770.3 1170.6,771.1 1170.2,772.1C1169.9,773.1 1172.4,774.1 1173.2,775.1C1174,776.1 1174.5,776.9 1175.2,778.1C1175.8,779.2 1176.8,780.9 1177.2,782C1177.5,783.2 1179.1,784 1177.2,785C1175.2,786 1168.9,786.8 1165.3,788C1161.7,789.1 1158.2,790.6 1155.4,791.9C1152.6,793.3 1148.1,794.6 1148.5,795.9C1148.8,797.2 1154.2,798.1 1157.4,799.9C1160.5,801.6 1166.9,804.5 1167.3,806.2C1167.6,807.8 1161,808.7 1159.3,809.8C1157.7,810.8 1156.9,811.7 1157.4,812.7C1157.9,813.7 1161.3,814.8 1162.3,815.7C1163.3,816.6 1164.5,817.1 1163.3,818.1C1162.2,819.1 1157.7,820.4 1155.4,821.6C1153.1,822.9 1150.8,824.3 1149.4,825.6C1148.1,826.9 1146.5,828.2 1147.5,829.6C1148.5,830.9 1152.4,832.2 1155.4,833.5C1158.4,834.8 1163,836.2 1165.3,837.5C1167.6,838.8 1168.6,840.3 1169.2,841.4C1169.9,842.6 1167.9,843.4 1169.2,844.4C1170.6,845.4 1174.9,846.4 1177.2,847.4C1179.5,848.4 1183.8,849.4 1183.1,850.3C1182.4,851.3 1176.2,852.4 1173.2,853.3C1170.2,854.2 1165.9,854.9 1165.3,855.7C1164.6,856.5 1167.6,857.5 1169.2,858.3C1170.9,859 1173.2,859.4 1175.2,860.2C1177.2,861.1 1180.1,861.3 1181.1,863.2C1182.1,865.2 1181.1,870.5 1181.1,872" fill="none" stroke="#000" stroke-width="3.5" stroke-linejoin="round"/>
</g>
<clipPath id="k16"><rect x="1270.4" y="520.9" width="171.9" height="341.1"/></clipPath>
<g clip-path="url(#k16)">
<path d="M1341.2,510.9C1341.2,512.2 1341.1,517.2 1341.2,519C1341.4,520.7 1341.2,520.5 1342.2,521.3C1343.2,522.2 1345.7,523 1347.2,523.9C1348.7,524.8 1350.2,525.7 1351.1,526.9C1352.1,528 1352.8,529.5 1353.1,530.8C1353.5,532.2 1353.8,533.5 1353.1,534.8C1352.5,536.1 1351.1,537.4 1349.2,538.8C1347.2,540.1 1344.2,541.5 1341.2,542.7C1338.3,544 1333.3,545.2 1331.3,546.3C1329.4,547.3 1329,548 1329.4,549.1C1329.7,550.1 1331.7,551.4 1333.3,552.6C1335,553.9 1337.3,555.3 1339.3,556.6C1341.2,557.9 1342.9,559.2 1345.2,560.5C1347.5,561.9 1350.8,563.3 1353.1,564.5C1355.4,565.8 1360.4,566.9 1359.1,568.1C1357.7,569.2 1349.8,570.4 1345.2,571.4C1340.6,572.5 1334,573.4 1331.3,574.4C1328.7,575.4 1329.7,576.4 1329.4,577.4C1329,578.4 1329.5,579.4 1329.4,580.3C1329.2,581.3 1327.7,582.3 1328.4,583.3C1329,584.3 1332.2,585.4 1333.3,586.3C1334.5,587.2 1336.3,587.8 1335.3,588.7C1334.3,589.5 1329,590.5 1327.4,591.2C1325.7,592 1323.8,592.4 1325.4,593.2C1327.1,594 1334,595.2 1337.3,596.2C1340.6,597.2 1345.9,598.2 1345.2,599.2C1344.5,600.1 1336.6,601.1 1333.3,602.1C1330,603.1 1326.7,604.1 1325.4,605.1C1324.1,606.1 1325.4,607.1 1325.4,608.1C1325.4,609.1 1326.2,610 1325.4,611C1324.6,612 1321.1,613 1320.5,614C1319.8,615 1321.1,616 1321.4,617C1321.8,618 1323.8,619 1322.4,620C1321.1,620.9 1316,621.8 1313.5,622.9C1311,624.1 1307.6,625.7 1307.6,626.9C1307.6,628 1311.5,628.8 1313.5,629.9C1315.5,630.9 1320.1,632.3 1319.5,633.4C1318.8,634.6 1312.9,635.6 1309.6,636.8C1306.3,638 1302.5,639.4 1299.7,640.7C1296.9,642.1 1292.4,643.4 1292.7,644.7C1293.1,646 1299.2,647.4 1301.6,648.7C1304.1,649.9 1308.2,650.9 1307.6,652C1306.9,653.2 1300.2,654.5 1297.7,655.6C1295.2,656.7 1293.4,657.4 1292.7,658.6C1292.1,659.7 1293.9,661.2 1293.7,662.5C1293.6,663.8 1293.1,665.3 1291.7,666.5C1290.4,667.6 1288.4,668.5 1285.8,669.5C1283.2,670.4 1278.2,671.4 1275.9,672.4C1273.6,673.4 1272.8,674.2 1271.9,675.4C1271.1,676.6 1271.1,678.7 1271,679.4L1270.4,679.4 L1270.4,510.9 Z" fill="#cccccc"/>
<path d="M1271,703.8C1272.1,704.3 1275.1,705.8 1277.9,706.8C1280.7,707.8 1285.3,708.8 1287.8,709.8C1290.3,710.7 1290.4,711.6 1292.7,712.7C1295,713.9 1298.7,715.5 1301.6,716.7C1304.6,717.8 1308.7,718.8 1310.6,719.7C1312.4,720.5 1313.7,721.2 1312.5,722C1311.4,722.9 1306.9,723.7 1303.6,724.6C1300.3,725.5 1293.1,726.5 1292.7,727.6C1292.4,728.6 1297.8,730 1301.6,730.9C1305.4,731.9 1310.7,732.5 1315.5,733.5C1320.3,734.5 1329.4,735.8 1330.4,736.9C1331.3,738 1324.3,739.1 1321.4,740C1318.6,741 1313.2,741.9 1313.5,742.8C1313.9,743.7 1319.5,744.6 1323.4,745.4C1327.4,746.2 1333.5,746.7 1337.3,747.4C1341.1,748 1346.5,748.5 1346.2,749.4C1345.9,750.2 1338.8,751.3 1335.3,752.3C1331.8,753.3 1325.4,754.1 1325.4,755.3C1325.4,756.5 1331.7,757.9 1335.3,759.3C1338.9,760.6 1344.5,761.7 1347.2,763.2C1349.8,764.7 1351.8,766.7 1351.1,768.2C1350.5,769.7 1345.4,771 1343.2,772.1C1341.1,773.3 1337.9,773.9 1338.3,775.1C1338.6,776.3 1343.4,777.7 1345.2,779.1C1347,780.4 1349.5,781.7 1349.2,783C1348.8,784.3 1344.4,785.8 1343.2,787C1342.1,788.1 1340.9,788.8 1342.2,790C1343.6,791.1 1348.7,792.7 1351.1,793.9C1353.6,795.2 1357.7,796.3 1357.1,797.5C1356.4,798.6 1350,799.6 1347.2,800.8C1344.4,802.1 1339.9,803.6 1340.3,804.8C1340.6,806 1345.7,806.6 1349.2,807.8C1352.6,808.9 1358.1,810.7 1361,811.7C1364,812.8 1368,813.2 1367,814.1C1366,815 1358.7,816.2 1355.1,817.3C1351.5,818.4 1345.9,819.6 1345.2,820.6C1344.5,821.7 1349,822.5 1351.1,823.6C1353.3,824.7 1358.7,826 1358.1,827.2C1357.4,828.3 1350.8,829.3 1347.2,830.5C1343.6,831.8 1337,833.3 1336.3,834.5C1335.6,835.7 1340.9,836.5 1343.2,837.5C1345.5,838.5 1348.8,839.3 1350.2,840.4C1351.5,841.6 1351.5,843.1 1351.1,844.4C1350.8,845.7 1346.9,847.2 1348.2,848.4C1349.5,849.5 1354.8,850.3 1359.1,851.3C1363.4,852.3 1372.9,853.3 1373.9,854.3C1374.9,855.3 1368.1,856.3 1365,857.3C1361.9,858.3 1357.7,859.3 1355.1,860.2C1352.5,861.2 1350.2,861.3 1349.2,863.2C1348.2,865.2 1349.2,870.5 1349.2,872L1270.4,872 L1270.4,703.8 Z" fill="#808080"/>
<path d="M1341.2,510.9C1341.2,512.2 1341.1,517.2 1341.2,519C1341.4,520.7 1341.2,520.5 1342.2,521.3C1343.2,522.2 1345.7,523 1347.2,523.9C1348.7,524.8 1350.2,525.7 1351.1,526.9C1352.1,528 1352.8,529.5 1353.1,530.8C1353.5,532.2 1353.8,533.5 1353.1,534.8C1352.5,536.1 1351.1,537.4 1349.2,538.8C1347.2,540.1 1344.2,541.5 1341.2,542.7C1338.3,544 1333.3,545.2 1331.3,546.3C1329.4,547.3 1329,548 1329.4,549.1C1329.7,550.1 1331.7,551.4 1333.3,552.6C1335,553.9 1337.3,555.3 1339.3,556.6C1341.2,557.9 1342.9,559.2 1345.2,560.5C1347.5,561.9 1350.8,563.3 1353.1,564.5C1355.4,565.8 1360.4,566.9 1359.1,568.1C1357.7,569.2 1349.8,570.4 1345.2,571.4C1340.6,572.5 1334,573.4 1331.3,574.4C1328.7,575.4 1329.7,576.4 1329.4,577.4C1329,578.4 1329.5,579.4 1329.4,580.3C1329.2,581.3 1327.7,582.3 1328.4,583.3C1329,584.3 1332.2,585.4 1333.3,586.3C1334.5,587.2 1336.3,587.8 1335.3,588.7C1334.3,589.5 1329,590.5 1327.4,591.2C1325.7,592 1323.8,592.4 1325.4,593.2C1327.1,594 1334,595.2 1337.3,596.2C1340.6,597.2 1345.9,598.2 1345.2,599.2C1344.5,600.1 1336.6,601.1 1333.3,602.1C1330,603.1 1326.7,604.1 1325.4,605.1C1324.1,606.1 1325.4,607.1 1325.4,608.1C1325.4,609.1 1326.2,610 1325.4,611C1324.6,612 1321.1,613 1320.5,614C1319.8,615 1321.1,616 1321.4,617C1321.8,618 1323.8,619 1322.4,620C1321.1,620.9 1316,621.8 1313.5,622.9C1311,624.1 1307.6,625.7 1307.6,626.9C1307.6,628 1311.5,628.8 1313.5,629.9C1315.5,630.9 1320.1,632.3 1319.5,633.4C1318.8,634.6 1312.9,635.6 1309.6,636.8C1306.3,638 1302.5,639.4 1299.7,640.7C1296.9,642.1 1292.4,643.4 1292.7,644.7C1293.1,646 1299.2,647.4 1301.6,648.7C1304.1,649.9 1308.2,650.9 1307.6,652C1306.9,653.2 1300.2,654.5 1297.7,655.6C1295.2,656.7 1293.4,657.4 1292.7,658.6C1292.1,659.7 1293.9,661.2 1293.7,662.5C1293.6,663.8 1293.1,665.3 1291.7,666.5C1290.4,667.6 1288.4,668.5 1285.8,669.5C1283.2,670.4 1278.2,671.4 1275.9,672.4C1273.6,673.4 1272.8,674.2 1271.9,675.4C1271.1,676.6 1271.1,678.7 1271,679.4 L1270.4,679.4 L1270.4,703.8L1271,703.8C1272.1,704.3 1275.1,705.8 1277.9,706.8C1280.7,707.8 1285.3,708.8 1287.8,709.8C1290.3,710.7 1290.4,711.6 1292.7,712.7C1295,713.9 1298.7,715.5 1301.6,716.7C1304.6,717.8 1308.7,718.8 1310.6,719.7C1312.4,720.5 1313.7,721.2 1312.5,722C1311.4,722.9 1306.9,723.7 1303.6,724.6C1300.3,725.5 1293.1,726.5 1292.7,727.6C1292.4,728.6 1297.8,730 1301.6,730.9C1305.4,731.9 1310.7,732.5 1315.5,733.5C1320.3,734.5 1329.4,735.8 1330.4,736.9C1331.3,738 1324.3,739.1 1321.4,740C1318.6,741 1313.2,741.9 1313.5,742.8C1313.9,743.7 1319.5,744.6 1323.4,745.4C1327.4,746.2 1333.5,746.7 1337.3,747.4C1341.1,748 1346.5,748.5 1346.2,749.4C1345.9,750.2 1338.8,751.3 1335.3,752.3C1331.8,753.3 1325.4,754.1 1325.4,755.3C1325.4,756.5 1331.7,757.9 1335.3,759.3C1338.9,760.6 1344.5,761.7 1347.2,763.2C1349.8,764.7 1351.8,766.7 1351.1,768.2C1350.5,769.7 1345.4,771 1343.2,772.1C1341.1,773.3 1337.9,773.9 1338.3,775.1C1338.6,776.3 1343.4,777.7 1345.2,779.1C1347,780.4 1349.5,781.7 1349.2,783C1348.8,784.3 1344.4,785.8 1343.2,787C1342.1,788.1 1340.9,788.8 1342.2,790C1343.6,791.1 1348.7,792.7 1351.1,793.9C1353.6,795.2 1357.7,796.3 1357.1,797.5C1356.4,798.6 1350,799.6 1347.2,800.8C1344.4,802.1 1339.9,803.6 1340.3,804.8C1340.6,806 1345.7,806.6 1349.2,807.8C1352.6,808.9 1358.1,810.7 1361,811.7C1364,812.8 1368,813.2 1367,814.1C1366,815 1358.7,816.2 1355.1,817.3C1351.5,818.4 1345.9,819.6 1345.2,820.6C1344.5,821.7 1349,822.5 1351.1,823.6C1353.3,824.7 1358.7,826 1358.1,827.2C1357.4,828.3 1350.8,829.3 1347.2,830.5C1343.6,831.8 1337,833.3 1336.3,834.5C1335.6,835.7 1340.9,836.5 1343.2,837.5C1345.5,838.5 1348.8,839.3 1350.2,840.4C1351.5,841.6 1351.5,843.1 1351.1,844.4C1350.8,845.7 1346.9,847.2 1348.2,848.4C1349.5,849.5 1354.8,850.3 1359.1,851.3C1363.4,852.3 1372.9,853.3 1373.9,854.3C1374.9,855.3 1368.1,856.3 1365,857.3C1361.9,858.3 1357.7,859.3 1355.1,860.2C1352.5,861.2 1350.2,861.3 1349.2,863.2C1348.2,865.2 1349.2,870.5 1349.2,872" fill="none" stroke="#000" stroke-width="3.5" stroke-linejoin="round"/>
</g>
<line x1="1098.5" y1="691.5" x2="1270.4" y2="691.5" stroke="#000" stroke-width="3.3" stroke-dasharray="12.9 5.6"/>
<line x1="1270.4" y1="691.5" x2="1442.3" y2="691.5" stroke="#000" stroke-width="3.3" stroke-dasharray="12.9 5.6"/>
<line x1="1098.5" y1="520.9" x2="1107" y2="520.9" stroke="#000" stroke-width="2.4"/>
<line x1="1098.5" y1="606.2" x2="1107" y2="606.2" stroke="#000" stroke-width="2.4"/>
<line x1="1098.5" y1="691.5" x2="1107" y2="691.5" stroke="#000" stroke-width="2.4"/>
<line x1="1098.5" y1="776.7" x2="1107" y2="776.7" stroke="#000" stroke-width="2.4"/>
<line x1="1098.5" y1="862" x2="1107" y2="862" stroke="#000" stroke-width="2.4"/>
<rect x="1098.5" y="520.9" width="343.8" height="341.1" fill="none" stroke="#000" stroke-width="2.7"/>
<line x1="1270.4" y1="520.9" x2="1270.4" y2="862" stroke="#000" stroke-width="2.7"/>
<text x="1087" y="532.7" text-anchor="end" font-size="30.5" letter-spacing="0.6">2</text>
<path d="M1080.5,617.8L1077.8,617.8L1077.8,600.7Q1076.8,601.6 1075.2,602.5Q1073.7,603.5 1072.4,603.9L1072.4,601.3Q1074.7,600.3 1076.4,598.8Q1078,597.3 1078.7,595.9L1080.5,595.9Z" fill="#000"/>
<text x="1087" y="703.2" text-anchor="end" font-size="30.5" letter-spacing="0.6">0</text>
<path d="M1079.7,788.3L1077,788.3L1077,771.2Q1076,772.2 1074.4,773.1Q1072.9,774 1071.6,774.5L1071.6,771.9Q1073.9,770.8 1075.6,769.3Q1077.2,767.8 1077.9,766.4L1079.7,766.4Z" fill="#000"/>
<text x="1068.5" y="788.5" text-anchor="end" font-size="30.5">−</text>
<text x="1087" y="873.8" text-anchor="end" font-size="30.5" letter-spacing="0.6">−2</text>
<text x="1185" y="899.3" text-anchor="middle" font-size="30.5" letter-spacing="1.0">DOS</text>
<text x="1356.8" y="899.3" text-anchor="middle" font-size="30.5" letter-spacing="1.0">DOS</text>
<text x="1185.2" y="499.5" text-anchor="middle" font-size="30.5" letter-spacing="1.05"><tspan font-style="italic">c</tspan>-AlSiTe<tspan font-size="20.5" dy="8.2">3</tspan></text>
<text x="1357" y="499.5" text-anchor="middle" font-size="30.5" letter-spacing="1.05"><tspan font-style="italic">a</tspan>-AlSiTe<tspan font-size="20.5" dy="8.2">3</tspan></text>
<text x="980.4" y="497.7" font-size="32.5" letter-spacing="1.4">(f)</text>
<text transform="translate(1024,772) rotate(-90)" font-size="30.5" letter-spacing="0.3"><tspan font-style="italic">E</tspan> – <tspan font-style="italic">E</tspan><tspan font-size="22" dy="8.6">F</tspan></text>
<text transform="translate(1024,671.7) rotate(-90)" font-size="30.5">(eV)</text>
</svg>
</body></html>
